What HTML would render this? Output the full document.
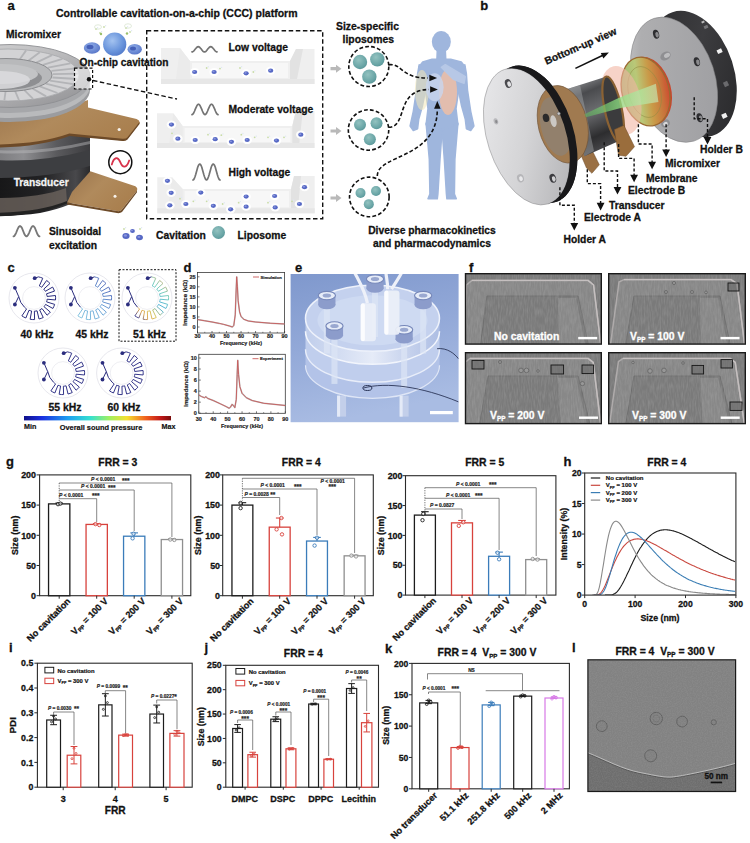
<!DOCTYPE html>
<html><head><meta charset="utf-8"><title>Figure</title>
<style>
html,body{margin:0;padding:0;background:#fff;}
body{width:750px;height:843px;overflow:hidden;font-family:"Liberation Sans",sans-serif;}
svg{display:block;font-family:"Liberation Sans",sans-serif;}
text{font-family:"Liberation Sans",sans-serif;}
</style></head><body>
<svg width="750" height="843" viewBox="0 0 750 843">
<rect width="750" height="843" fill="#fff"/>
<defs>
<radialGradient id="gBub" cx="0.4" cy="0.35" r="0.75"><stop offset="0" stop-color="#a4c3f0"/><stop offset="0.6" stop-color="#6a95dc"/><stop offset="1" stop-color="#4d74c6"/></radialGradient>
<radialGradient id="gBubS" cx="0.4" cy="0.35" r="0.75"><stop offset="0" stop-color="#92b0ea"/><stop offset="1" stop-color="#5270c4"/></radialGradient>
<radialGradient id="gTeal" cx="0.4" cy="0.35" r="0.75"><stop offset="0" stop-color="#93c2c0"/><stop offset="0.7" stop-color="#68a4a5"/><stop offset="1" stop-color="#528f92"/></radialGradient>
<linearGradient id="gTrans" x1="0" x2="1" y1="0" y2="0"><stop offset="0" stop-color="#161617"/><stop offset="0.5" stop-color="#222224"/><stop offset="0.85" stop-color="#48484b"/><stop offset="1" stop-color="#2a2a2c"/></linearGradient>
<linearGradient id="gSilver" x1="0" x2="1" y1="0" y2="0"><stop offset="0" stop-color="#7a7a7d"/><stop offset="0.3" stop-color="#8e8e91"/><stop offset="0.65" stop-color="#5a5a5d"/><stop offset="1" stop-color="#3c3c3f"/></linearGradient>
<linearGradient id="gCop" x1="0" x2="1" y1="0" y2="0.6"><stop offset="0" stop-color="#9a744c"/><stop offset="0.5" stop-color="#b08a5c"/><stop offset="1" stop-color="#a97f4e"/></linearGradient>
<linearGradient id="gDisc" x1="0" x2="1" y1="0" y2="1"><stop offset="0" stop-color="#d9d9da"/><stop offset="0.5" stop-color="#b9b9bb"/><stop offset="1" stop-color="#8e8e91"/></linearGradient>
<linearGradient id="gChan" x1="0" x2="0" y1="0" y2="1"><stop offset="0" stop-color="#f3f3f3"/><stop offset="1" stop-color="#e6e6e6"/></linearGradient>
<marker id="arw" viewBox="0 0 10 10" refX="5" refY="5" markerWidth="5" markerHeight="5" orient="auto"><path d="M0 0L10 5L0 10z" fill="#111"/></marker>
</defs>
<text x="7.60" y="9.80" font-size="13" text-anchor="start" fill="#111" stroke="#111" stroke-width="0.28" font-weight="bold">a</text>
<text x="56.00" y="16.50" font-size="10.5" text-anchor="start" fill="#111" stroke="#111" stroke-width="0.28" font-weight="bold">Controllable cavitation-on-a-chip (CCC) platform</text>
<text x="6.00" y="38.30" font-size="10.3" text-anchor="start" fill="#111" stroke="#111" stroke-width="0.28" font-weight="bold">Micromixer</text>
<clipPath id="aclip"><rect x="0" y="40" width="146" height="185"/></clipPath><g clip-path="url(#aclip)">
<path d="M-5 150 L90 150 L90 192 Q75 206 40 213 Q20 216 -5 216 Z" fill="url(#gTrans)" stroke="none" stroke-width="1"/>
<path d="M-5 198 Q40 198 66 188 L67 202 Q40 213 -5 215 Z" fill="#6b635c" stroke="none" stroke-width="1" opacity="0.8"/>
<path d="M-5 213 Q40 212 67 201 L67 203.5 Q40 215 -5 216.5 Z" fill="#222" stroke="none" stroke-width="1"/>
<path d="M90.3 171.2 L135.4 186.3 Q138 188 137 190.5 L121.5 210 Q120 211.5 117 211 L67.1 202.5 L72 192 Z" fill="url(#gCop)" stroke="none" stroke-width="1"/>
<path d="M67.1 202.5 L117 211 Q120 211.5 121.5 210 L137 190.5 L137 192.2 L122 212 Q120 213.5 117 213 L67.1 204.5Z" fill="#6d4a28" stroke="none" stroke-width="1"/>
<circle cx="115.00" cy="196.20" r="1.50" fill="#f6f2ec" stroke="none" stroke-width="1"/>
<path d="M-5 140 L90 128 L90 153 Q70 160 40 163 Q15 164 -5 163 Z" fill="url(#gSilver)" stroke="none" stroke-width="1"/>
<path d="M-5 160 Q40 163 90 150 L90 166 Q50 178 -5 178Z" fill="#3d3e41" stroke="none" stroke-width="1"/>
<path d="M-5 150 Q40 153 90 141 L90 144 Q40 156 -5 153Z" fill="#bdbdbf" stroke="none" stroke-width="1" opacity="0.45"/>
<path d="M-5 120 Q40 118 88 100 L88 107.5 L136.6 119.1 Q140.5 121 139.5 123.5 L127.5 139 Q126 141 122.5 140.5 L69.4 135.3 Q40 146 -5 146.5 Z" fill="url(#gCop)" stroke="none" stroke-width="1"/>
<path d="M-5 144.5 Q40 144 69.4 133.5 L122.5 138.7 Q126 139 127.5 137.2 L139.5 122 L139.5 124 L127.5 139.6 Q126 141.3 122.5 140.9 L69.4 135.9 Q40 147 -5 147.5Z" fill="#6d4a28" stroke="none" stroke-width="1"/>
<circle cx="119.20" cy="129.50" r="1.60" fill="#f6f2ec" stroke="none" stroke-width="1"/>
<ellipse cx="10.00" cy="90.00" rx="80.00" ry="32.00" fill="#9b9c9f" stroke="none" stroke-width="1"/>
<ellipse cx="10.00" cy="86.00" rx="80.00" ry="32.00" fill="#b9babc" stroke="none" stroke-width="1"/>
<ellipse cx="10.00" cy="81.00" rx="80.00" ry="32.00" fill="#a6a7aa" stroke="none" stroke-width="1"/>
<ellipse cx="10.00" cy="76.00" rx="80.00" ry="31.50" fill="url(#gDisc)" stroke="#8f9093" stroke-width="0.9"/>
<ellipse cx="8.00" cy="75.00" rx="71.00" ry="26.00" fill="#d3d3d5" stroke="#a2a3a6" stroke-width="0.7"/>
<line x1="19.65" y1="59.55" x2="26.12" y2="50.37" stroke="#b3b4b7" stroke-width="1.8"/><line x1="28.43" y1="60.74" x2="39.78" y2="52.28" stroke="#b3b4b7" stroke-width="1.8"/><line x1="36.32" y1="62.57" x2="52.05" y2="55.18" stroke="#b3b4b7" stroke-width="1.8"/><line x1="42.97" y1="64.93" x2="62.40" y2="58.95" stroke="#b3b4b7" stroke-width="1.8"/><line x1="48.10" y1="67.74" x2="70.37" y2="63.42" stroke="#b3b4b7" stroke-width="1.8"/><line x1="51.47" y1="70.86" x2="75.61" y2="68.40" stroke="#b3b4b7" stroke-width="1.8"/><line x1="52.94" y1="74.16" x2="77.90" y2="73.67" stroke="#b3b4b7" stroke-width="1.8"/><line x1="52.45" y1="77.50" x2="77.14" y2="78.99" stroke="#b3b4b7" stroke-width="1.8"/><line x1="50.01" y1="80.73" x2="73.35" y2="84.14" stroke="#b3b4b7" stroke-width="1.8"/><line x1="45.74" y1="83.71" x2="66.71" y2="88.89" stroke="#b3b4b7" stroke-width="1.8"/><line x1="39.82" y1="86.31" x2="57.50" y2="93.03" stroke="#b3b4b7" stroke-width="1.8"/><line x1="32.51" y1="88.42" x2="46.12" y2="96.39" stroke="#b3b4b7" stroke-width="1.8"/><line x1="24.13" y1="89.94" x2="33.09" y2="98.81" stroke="#b3b4b7" stroke-width="1.8"/><line x1="15.04" y1="90.80" x2="18.95" y2="100.19" stroke="#b3b4b7" stroke-width="1.8"/><line x1="5.64" y1="90.98" x2="4.34" y2="100.47" stroke="#b3b4b7" stroke-width="1.8"/><line x1="-3.65" y1="90.45" x2="-10.12" y2="99.63" stroke="#b3b4b7" stroke-width="1.8"/>
<ellipse cx="6.00" cy="75.00" rx="46.00" ry="16.50" fill="#b8b9bb" stroke="#8b8c8f" stroke-width="1.0"/>
<ellipse cx="4.00" cy="78.00" rx="38.00" ry="12.00" fill="#8e8f92" stroke="none" stroke-width="1"/>
<ellipse cx="2.00" cy="74.00" rx="36.00" ry="10.00" fill="#c2c3c5" stroke="none" stroke-width="1"/>
<ellipse cx="0.00" cy="80.00" rx="30.00" ry="9.00" fill="#dcdcde" stroke="none" stroke-width="1" opacity="0.85"/>
</g>
<circle cx="96.00" cy="29.00" r="0.90" fill="#c9dca8" stroke="none" stroke-width="1"/><circle cx="97.60" cy="27.80" r="0.70" fill="#dfe8f3" stroke="none" stroke-width="1"/><circle cx="100.00" cy="33.00" r="0.90" fill="#c9dca8" stroke="none" stroke-width="1"/><circle cx="101.60" cy="31.80" r="0.70" fill="#dfe8f3" stroke="none" stroke-width="1"/><circle cx="126.00" cy="28.00" r="0.90" fill="#c9dca8" stroke="none" stroke-width="1"/><circle cx="127.60" cy="26.80" r="0.70" fill="#dfe8f3" stroke="none" stroke-width="1"/><circle cx="130.00" cy="32.00" r="0.90" fill="#c9dca8" stroke="none" stroke-width="1"/><circle cx="131.60" cy="30.80" r="0.70" fill="#dfe8f3" stroke="none" stroke-width="1"/><circle cx="104.00" cy="27.00" r="0.90" fill="#c9dca8" stroke="none" stroke-width="1"/><circle cx="105.60" cy="25.80" r="0.70" fill="#dfe8f3" stroke="none" stroke-width="1"/><ellipse cx="98.00" cy="27.00" rx="3.50" ry="2.20" fill="none" stroke="#d9e4d0" stroke-width="0.8"/><ellipse cx="128.00" cy="26.00" rx="3.50" ry="2.20" fill="none" stroke="#d9e4d0" stroke-width="0.8"/><circle cx="101.00" cy="34.00" r="1.20" fill="#9ac06a" stroke="none" stroke-width="1"/><circle cx="127.00" cy="33.50" r="1.20" fill="#9ac06a" stroke="none" stroke-width="1"/>
<circle cx="114.70" cy="44.20" r="11.60" fill="url(#gBub)" stroke="none" stroke-width="1"/>
<ellipse cx="92.00" cy="48.00" rx="8.20" ry="5.80" fill="url(#gBubS)" stroke="none" stroke-width="1"/>
<ellipse cx="134.70" cy="49.30" rx="7.20" ry="5.20" fill="url(#gBubS)" stroke="none" stroke-width="1"/>
<ellipse cx="90.00" cy="47.00" rx="3.50" ry="2.20" fill="#4560b8" stroke="none" stroke-width="1"/>
<ellipse cx="133.00" cy="48.60" rx="3.00" ry="2.00" fill="#4560b8" stroke="none" stroke-width="1"/>
<rect x="74.50" y="68.20" width="18.10" height="20.80" fill="#ffffff" stroke="#111" stroke-width="1.2" stroke-dasharray="3 2" fill-opacity="0.55"/>
<circle cx="89.00" cy="79.30" r="2.20" fill="#111" stroke="none" stroke-width="1"/>
<line x1="93.00" y1="80.50" x2="177.00" y2="99.00" stroke="#111" stroke-width="1.3" stroke-dasharray="4.5 2.5"/>
<circle cx="120.30" cy="162.20" r="11.50" fill="#fff" stroke="#111" stroke-width="1.5"/>
<path d="M111.8 164.5 C114 156.5 118 156.5 120.4 162.4 S126.5 168.5 129.2 160.5" fill="none" stroke="#d8324a" stroke-width="1.8" stroke-linecap="round"/>
<text x="13.70" y="185.80" font-size="10.2" text-anchor="start" fill="#f4f4f4" stroke="#f4f4f4" stroke-width="0.28" font-weight="bold">Transducer</text>
<rect x="146.70" y="30.70" width="176.00" height="188.00" fill="none" stroke="#111" stroke-width="1.4" stroke-dasharray="4.5 2.6"/>
<path d="M161 48L180 48L190 61L290 61L296 49L314.5 49L314.5 84L161 84Z" fill="#efefef" stroke="none" stroke-width="1"/><path d="M192 63L288 63L288 78L192 78Z" fill="#f7f7f7" stroke="none" stroke-width="1"/><rect x="161.00" y="79.00" width="153.50" height="5.00" fill="#e7e7e7" stroke="none" stroke-width="1"/><path d="M290 61L296 49L303 49L297 79L290 79Z" fill="#e2e2e2" stroke="none" stroke-width="1"/><path d="M180 48L190 61L190 79L176 79Z" fill="#ebebeb" stroke="none" stroke-width="1"/>
<path d="M157 113.2L173.3 113.2L182.7 126L292.3 126L295.8 111L314.5 111L314.5 148L157 148Z" fill="#efefef" stroke="none" stroke-width="1"/><path d="M184.7 128L290.3 128L290.3 142L184.7 142Z" fill="#f7f7f7" stroke="none" stroke-width="1"/><rect x="157.00" y="143.00" width="157.50" height="5.00" fill="#e7e7e7" stroke="none" stroke-width="1"/><path d="M292.3 126L295.8 111L302.8 111L299.3 143L292.3 143Z" fill="#e2e2e2" stroke="none" stroke-width="1"/><path d="M173.3 113.2L182.7 126L182.7 143L169.3 143Z" fill="#ebebeb" stroke="none" stroke-width="1"/>
<path d="M157.3 177.3L172 177.3L182.7 189L291 189L294 176L314.7 176L314.7 213.3L157.3 213.3Z" fill="#efefef" stroke="none" stroke-width="1"/><path d="M184.7 191L289 191L289 207.3L184.7 207.3Z" fill="#f7f7f7" stroke="none" stroke-width="1"/><rect x="157.30" y="208.30" width="157.40" height="5.00" fill="#e7e7e7" stroke="none" stroke-width="1"/><path d="M291 189L294 176L301 176L298 208.3L291 208.3Z" fill="#e2e2e2" stroke="none" stroke-width="1"/><path d="M172 177.3L182.7 189L182.7 208.3L168 208.3Z" fill="#ebebeb" stroke="none" stroke-width="1"/>
<text x="79.50" y="66.00" font-size="10.2" text-anchor="start" fill="#111" stroke="#111" stroke-width="0.28" font-weight="bold">On-chip cavitation</text>
<path d="M192.0 51.9 L192.6 51.8 L193.2 51.4 L193.9 50.8 L194.5 50.1 L195.1 49.3 L195.8 48.5 L196.4 47.8 L197.0 47.2 L197.6 46.8 L198.2 46.7 L198.9 46.8 L199.5 47.2 L200.1 47.8 L200.8 48.5 L201.4 49.3 L202.0 50.1 L202.6 50.8 L203.2 51.4 L203.9 51.8 L204.5 51.9 L205.1 51.8 L205.8 51.4 L206.4 50.8 L207.0 50.1 L207.6 49.3 L208.2 48.5 L208.9 47.8 L209.5 47.2 L210.1 46.8 L210.8 46.7 L211.4 46.8 L212.0 47.2 L212.6 47.8 L213.2 48.5 L213.9 49.3 L214.5 50.1 L215.1 50.8 L215.8 51.4 L216.4 51.8 L217.0 51.9" fill="none" stroke="#747474" stroke-width="1.7" stroke-linecap="round" stroke-linejoin="round"/>
<text x="228.50" y="51.20" font-size="10.3" text-anchor="start" fill="#111" stroke="#111" stroke-width="0.28" font-weight="bold">Low voltage</text>
<path d="M192.0 114.6 L192.7 114.3 L193.3 113.6 L193.9 112.5 L194.6 111.0 L195.2 109.4 L195.9 107.8 L196.6 106.3 L197.2 105.2 L197.8 104.5 L198.5 104.2 L199.2 104.5 L199.8 105.2 L200.4 106.3 L201.1 107.8 L201.8 109.4 L202.4 111.0 L203.1 112.5 L203.7 113.6 L204.3 114.3 L205.0 114.6 L205.7 114.3 L206.3 113.6 L206.9 112.5 L207.6 111.0 L208.2 109.4 L208.9 107.8 L209.6 106.3 L210.2 105.2 L210.8 104.5 L211.5 104.2 L212.2 104.5 L212.8 105.2 L213.4 106.3 L214.1 107.8 L214.8 109.4 L215.4 111.0 L216.1 112.5 L216.7 113.6 L217.3 114.3 L218.0 114.6" fill="none" stroke="#747474" stroke-width="1.7" stroke-linecap="round" stroke-linejoin="round"/>
<text x="228.50" y="112.60" font-size="10.3" text-anchor="start" fill="#111" stroke="#111" stroke-width="0.28" font-weight="bold">Moderate voltage</text>
<path d="M193.0 180.0 L193.7 179.6 L194.3 178.5 L195.0 176.7 L195.7 174.5 L196.4 172.0 L197.1 169.5 L197.7 167.3 L198.4 165.5 L199.1 164.4 L199.8 164.0 L200.4 164.4 L201.1 165.5 L201.8 167.3 L202.4 169.5 L203.1 172.0 L203.8 174.5 L204.5 176.7 L205.2 178.5 L205.8 179.6 L206.5 180.0 L207.2 179.6 L207.8 178.5 L208.5 176.7 L209.2 174.5 L209.9 172.0 L210.6 169.5 L211.2 167.3 L211.9 165.5 L212.6 164.4 L213.2 164.0 L213.9 164.4 L214.6 165.5 L215.3 167.3 L215.9 169.5 L216.6 172.0 L217.3 174.5 L218.0 176.7 L218.7 178.5 L219.3 179.6 L220.0 180.0" fill="none" stroke="#747474" stroke-width="1.7" stroke-linecap="round" stroke-linejoin="round"/>
<text x="228.50" y="176.00" font-size="10.3" text-anchor="start" fill="#111" stroke="#111" stroke-width="0.28" font-weight="bold">High voltage</text>
<ellipse cx="194.67" cy="72.00" rx="4.80" ry="4.10" fill="#ffffff" stroke="none" stroke-width="1" opacity="0.9"/><ellipse cx="194.67" cy="72.00" rx="2.60" ry="2.10" fill="#5668c4" stroke="none" stroke-width="1"/><ellipse cx="194.07" cy="71.50" rx="1.17" ry="0.84" fill="#8793dd" stroke="none" stroke-width="1"/>
<ellipse cx="214.13" cy="72.00" rx="4.80" ry="4.10" fill="#ffffff" stroke="none" stroke-width="1" opacity="0.9"/><ellipse cx="214.13" cy="72.00" rx="2.60" ry="2.10" fill="#5668c4" stroke="none" stroke-width="1"/><ellipse cx="213.53" cy="71.50" rx="1.17" ry="0.84" fill="#8793dd" stroke="none" stroke-width="1"/>
<ellipse cx="246.13" cy="73.33" rx="4.80" ry="4.10" fill="#ffffff" stroke="none" stroke-width="1" opacity="0.9"/><ellipse cx="246.13" cy="73.33" rx="2.60" ry="2.10" fill="#5668c4" stroke="none" stroke-width="1"/><ellipse cx="245.53" cy="72.83" rx="1.17" ry="0.84" fill="#8793dd" stroke="none" stroke-width="1"/>
<ellipse cx="270.67" cy="70.67" rx="4.80" ry="4.10" fill="#ffffff" stroke="none" stroke-width="1" opacity="0.9"/><ellipse cx="270.67" cy="70.67" rx="2.60" ry="2.10" fill="#5668c4" stroke="none" stroke-width="1"/><ellipse cx="270.07" cy="70.17" rx="1.17" ry="0.84" fill="#8793dd" stroke="none" stroke-width="1"/>
<circle cx="206.67" cy="68.00" r="0.90" fill="#c9dca8" stroke="none" stroke-width="1"/><circle cx="208.27" cy="66.80" r="0.70" fill="#dfe8f3" stroke="none" stroke-width="1"/>
<circle cx="220.00" cy="68.53" r="0.90" fill="#c9dca8" stroke="none" stroke-width="1"/><circle cx="221.60" cy="67.33" r="0.70" fill="#dfe8f3" stroke="none" stroke-width="1"/>
<circle cx="240.00" cy="68.00" r="0.90" fill="#c9dca8" stroke="none" stroke-width="1"/><circle cx="241.60" cy="66.80" r="0.70" fill="#dfe8f3" stroke="none" stroke-width="1"/>
<circle cx="253.33" cy="72.00" r="0.90" fill="#c9dca8" stroke="none" stroke-width="1"/><circle cx="254.93" cy="70.80" r="0.70" fill="#dfe8f3" stroke="none" stroke-width="1"/>
<ellipse cx="171.47" cy="124.53" rx="4.80" ry="4.10" fill="#ffffff" stroke="none" stroke-width="1" opacity="0.9"/><ellipse cx="171.47" cy="124.53" rx="2.60" ry="2.10" fill="#5668c4" stroke="none" stroke-width="1"/><ellipse cx="170.87" cy="124.03" rx="1.17" ry="0.84" fill="#8793dd" stroke="none" stroke-width="1"/>
<ellipse cx="177.87" cy="138.67" rx="4.80" ry="4.10" fill="#ffffff" stroke="none" stroke-width="1" opacity="0.9"/><ellipse cx="177.87" cy="138.67" rx="2.60" ry="2.10" fill="#5668c4" stroke="none" stroke-width="1"/><ellipse cx="177.27" cy="138.17" rx="1.17" ry="0.84" fill="#8793dd" stroke="none" stroke-width="1"/>
<ellipse cx="195.20" cy="140.00" rx="4.80" ry="4.10" fill="#ffffff" stroke="none" stroke-width="1" opacity="0.9"/><ellipse cx="195.20" cy="140.00" rx="2.60" ry="2.10" fill="#5668c4" stroke="none" stroke-width="1"/><ellipse cx="194.60" cy="139.50" rx="1.17" ry="0.84" fill="#8793dd" stroke="none" stroke-width="1"/>
<ellipse cx="215.20" cy="139.20" rx="4.80" ry="4.10" fill="#ffffff" stroke="none" stroke-width="1" opacity="0.9"/><ellipse cx="215.20" cy="139.20" rx="2.60" ry="2.10" fill="#5668c4" stroke="none" stroke-width="1"/><ellipse cx="214.60" cy="138.70" rx="1.17" ry="0.84" fill="#8793dd" stroke="none" stroke-width="1"/>
<ellipse cx="231.47" cy="141.87" rx="4.80" ry="4.10" fill="#ffffff" stroke="none" stroke-width="1" opacity="0.9"/><ellipse cx="231.47" cy="141.87" rx="2.60" ry="2.10" fill="#5668c4" stroke="none" stroke-width="1"/><ellipse cx="230.87" cy="141.37" rx="1.17" ry="0.84" fill="#8793dd" stroke="none" stroke-width="1"/>
<ellipse cx="247.20" cy="140.00" rx="4.80" ry="4.10" fill="#ffffff" stroke="none" stroke-width="1" opacity="0.9"/><ellipse cx="247.20" cy="140.00" rx="2.60" ry="2.10" fill="#5668c4" stroke="none" stroke-width="1"/><ellipse cx="246.60" cy="139.50" rx="1.17" ry="0.84" fill="#8793dd" stroke="none" stroke-width="1"/>
<ellipse cx="276.53" cy="140.53" rx="4.80" ry="4.10" fill="#ffffff" stroke="none" stroke-width="1" opacity="0.9"/><ellipse cx="276.53" cy="140.53" rx="2.60" ry="2.10" fill="#5668c4" stroke="none" stroke-width="1"/><ellipse cx="275.93" cy="140.03" rx="1.17" ry="0.84" fill="#8793dd" stroke="none" stroke-width="1"/>
<ellipse cx="300.80" cy="134.67" rx="4.80" ry="4.10" fill="#ffffff" stroke="none" stroke-width="1" opacity="0.9"/><ellipse cx="300.80" cy="134.67" rx="2.60" ry="2.10" fill="#5668c4" stroke="none" stroke-width="1"/><ellipse cx="300.20" cy="134.17" rx="1.17" ry="0.84" fill="#8793dd" stroke="none" stroke-width="1"/>
<circle cx="172.00" cy="133.33" r="0.90" fill="#c9dca8" stroke="none" stroke-width="1"/><circle cx="173.60" cy="132.13" r="0.70" fill="#dfe8f3" stroke="none" stroke-width="1"/>
<circle cx="208.00" cy="134.67" r="0.90" fill="#c9dca8" stroke="none" stroke-width="1"/><circle cx="209.60" cy="133.47" r="0.70" fill="#dfe8f3" stroke="none" stroke-width="1"/>
<circle cx="221.33" cy="135.20" r="0.90" fill="#c9dca8" stroke="none" stroke-width="1"/><circle cx="222.93" cy="134.00" r="0.70" fill="#dfe8f3" stroke="none" stroke-width="1"/>
<circle cx="241.33" cy="134.67" r="0.90" fill="#c9dca8" stroke="none" stroke-width="1"/><circle cx="242.93" cy="133.47" r="0.70" fill="#dfe8f3" stroke="none" stroke-width="1"/>
<circle cx="254.67" cy="137.33" r="0.90" fill="#c9dca8" stroke="none" stroke-width="1"/><circle cx="256.27" cy="136.13" r="0.70" fill="#dfe8f3" stroke="none" stroke-width="1"/>
<circle cx="268.00" cy="137.33" r="0.90" fill="#c9dca8" stroke="none" stroke-width="1"/><circle cx="269.60" cy="136.13" r="0.70" fill="#dfe8f3" stroke="none" stroke-width="1"/>
<circle cx="284.00" cy="137.33" r="0.90" fill="#c9dca8" stroke="none" stroke-width="1"/><circle cx="285.60" cy="136.13" r="0.70" fill="#dfe8f3" stroke="none" stroke-width="1"/>
<ellipse cx="167.47" cy="180.80" rx="4.80" ry="4.10" fill="#ffffff" stroke="none" stroke-width="1" opacity="0.9"/><ellipse cx="167.47" cy="180.80" rx="2.60" ry="2.10" fill="#5668c4" stroke="none" stroke-width="1"/><ellipse cx="166.87" cy="180.30" rx="1.17" ry="0.84" fill="#8793dd" stroke="none" stroke-width="1"/>
<ellipse cx="171.20" cy="192.80" rx="4.80" ry="4.10" fill="#ffffff" stroke="none" stroke-width="1" opacity="0.9"/><ellipse cx="171.20" cy="192.80" rx="2.60" ry="2.10" fill="#5668c4" stroke="none" stroke-width="1"/><ellipse cx="170.60" cy="192.30" rx="1.17" ry="0.84" fill="#8793dd" stroke="none" stroke-width="1"/>
<ellipse cx="169.87" cy="205.33" rx="4.80" ry="4.10" fill="#ffffff" stroke="none" stroke-width="1" opacity="0.9"/><ellipse cx="169.87" cy="205.33" rx="2.60" ry="2.10" fill="#5668c4" stroke="none" stroke-width="1"/><ellipse cx="169.27" cy="204.83" rx="1.17" ry="0.84" fill="#8793dd" stroke="none" stroke-width="1"/>
<ellipse cx="185.87" cy="204.00" rx="4.80" ry="4.10" fill="#ffffff" stroke="none" stroke-width="1" opacity="0.9"/><ellipse cx="185.87" cy="204.00" rx="2.60" ry="2.10" fill="#5668c4" stroke="none" stroke-width="1"/><ellipse cx="185.27" cy="203.50" rx="1.17" ry="0.84" fill="#8793dd" stroke="none" stroke-width="1"/>
<ellipse cx="200.80" cy="192.53" rx="4.80" ry="4.10" fill="#ffffff" stroke="none" stroke-width="1" opacity="0.9"/><ellipse cx="200.80" cy="192.53" rx="2.60" ry="2.10" fill="#5668c4" stroke="none" stroke-width="1"/><ellipse cx="200.20" cy="192.03" rx="1.17" ry="0.84" fill="#8793dd" stroke="none" stroke-width="1"/>
<ellipse cx="213.33" cy="205.87" rx="4.80" ry="4.10" fill="#ffffff" stroke="none" stroke-width="1" opacity="0.9"/><ellipse cx="213.33" cy="205.87" rx="2.60" ry="2.10" fill="#5668c4" stroke="none" stroke-width="1"/><ellipse cx="212.73" cy="205.37" rx="1.17" ry="0.84" fill="#8793dd" stroke="none" stroke-width="1"/>
<ellipse cx="230.67" cy="209.33" rx="4.80" ry="4.10" fill="#ffffff" stroke="none" stroke-width="1" opacity="0.9"/><ellipse cx="230.67" cy="209.33" rx="2.60" ry="2.10" fill="#5668c4" stroke="none" stroke-width="1"/><ellipse cx="230.07" cy="208.83" rx="1.17" ry="0.84" fill="#8793dd" stroke="none" stroke-width="1"/>
<ellipse cx="246.13" cy="196.53" rx="4.80" ry="4.10" fill="#ffffff" stroke="none" stroke-width="1" opacity="0.9"/><ellipse cx="246.13" cy="196.53" rx="2.60" ry="2.10" fill="#5668c4" stroke="none" stroke-width="1"/><ellipse cx="245.53" cy="196.03" rx="1.17" ry="0.84" fill="#8793dd" stroke="none" stroke-width="1"/>
<ellipse cx="246.13" cy="206.67" rx="4.80" ry="4.10" fill="#ffffff" stroke="none" stroke-width="1" opacity="0.9"/><ellipse cx="246.13" cy="206.67" rx="2.60" ry="2.10" fill="#5668c4" stroke="none" stroke-width="1"/><ellipse cx="245.53" cy="206.17" rx="1.17" ry="0.84" fill="#8793dd" stroke="none" stroke-width="1"/>
<ellipse cx="274.67" cy="196.00" rx="4.80" ry="4.10" fill="#ffffff" stroke="none" stroke-width="1" opacity="0.9"/><ellipse cx="274.67" cy="196.00" rx="2.60" ry="2.10" fill="#5668c4" stroke="none" stroke-width="1"/><ellipse cx="274.07" cy="195.50" rx="1.17" ry="0.84" fill="#8793dd" stroke="none" stroke-width="1"/>
<ellipse cx="275.20" cy="207.47" rx="4.80" ry="4.10" fill="#ffffff" stroke="none" stroke-width="1" opacity="0.9"/><ellipse cx="275.20" cy="207.47" rx="2.60" ry="2.10" fill="#5668c4" stroke="none" stroke-width="1"/><ellipse cx="274.60" cy="206.97" rx="1.17" ry="0.84" fill="#8793dd" stroke="none" stroke-width="1"/>
<ellipse cx="299.47" cy="204.00" rx="4.80" ry="4.10" fill="#ffffff" stroke="none" stroke-width="1" opacity="0.9"/><ellipse cx="299.47" cy="204.00" rx="2.60" ry="2.10" fill="#5668c4" stroke="none" stroke-width="1"/><ellipse cx="298.87" cy="203.50" rx="1.17" ry="0.84" fill="#8793dd" stroke="none" stroke-width="1"/>
<ellipse cx="304.53" cy="187.20" rx="4.80" ry="4.10" fill="#ffffff" stroke="none" stroke-width="1" opacity="0.9"/><ellipse cx="304.53" cy="187.20" rx="2.60" ry="2.10" fill="#5668c4" stroke="none" stroke-width="1"/><ellipse cx="303.93" cy="186.70" rx="1.17" ry="0.84" fill="#8793dd" stroke="none" stroke-width="1"/>
<circle cx="180.00" cy="198.67" r="0.90" fill="#c9dca8" stroke="none" stroke-width="1"/><circle cx="181.60" cy="197.47" r="0.70" fill="#dfe8f3" stroke="none" stroke-width="1"/>
<circle cx="193.33" cy="201.33" r="0.90" fill="#c9dca8" stroke="none" stroke-width="1"/><circle cx="194.93" cy="200.13" r="0.70" fill="#dfe8f3" stroke="none" stroke-width="1"/>
<circle cx="206.67" cy="201.33" r="0.90" fill="#c9dca8" stroke="none" stroke-width="1"/><circle cx="208.27" cy="200.13" r="0.70" fill="#dfe8f3" stroke="none" stroke-width="1"/>
<circle cx="222.67" cy="204.00" r="0.90" fill="#c9dca8" stroke="none" stroke-width="1"/><circle cx="224.27" cy="202.80" r="0.70" fill="#dfe8f3" stroke="none" stroke-width="1"/>
<circle cx="238.67" cy="202.67" r="0.90" fill="#c9dca8" stroke="none" stroke-width="1"/><circle cx="240.27" cy="201.47" r="0.70" fill="#dfe8f3" stroke="none" stroke-width="1"/>
<circle cx="268.00" cy="202.67" r="0.90" fill="#c9dca8" stroke="none" stroke-width="1"/><circle cx="269.60" cy="201.47" r="0.70" fill="#dfe8f3" stroke="none" stroke-width="1"/>
<circle cx="292.00" cy="201.33" r="0.90" fill="#c9dca8" stroke="none" stroke-width="1"/><circle cx="293.60" cy="200.13" r="0.70" fill="#dfe8f3" stroke="none" stroke-width="1"/>
<path d="M13.5 236.4 L14.2 236.1 L14.8 235.4 L15.4 234.3 L16.1 232.8 L16.8 231.2 L17.4 229.6 L18.1 228.1 L18.7 227.0 L19.4 226.3 L20.0 226.0 L20.6 226.3 L21.3 227.0 L22.0 228.1 L22.6 229.6 L23.2 231.2 L23.9 232.8 L24.5 234.3 L25.2 235.4 L25.9 236.1 L26.5 236.4 L27.1 236.1 L27.8 235.4 L28.4 234.3 L29.1 232.8 L29.8 231.2 L30.4 229.6 L31.1 228.1 L31.7 227.0 L32.3 226.3 L33.0 226.0 L33.7 226.3 L34.3 227.0 L35.0 228.1 L35.6 229.6 L36.2 231.2 L36.9 232.8 L37.5 234.3 L38.2 235.4 L38.8 236.1 L39.5 236.4" fill="none" stroke="#777" stroke-width="1.8" stroke-linecap="round" stroke-linejoin="round"/>
<text x="49.00" y="235.30" font-size="10.3" text-anchor="start" fill="#111" stroke="#111" stroke-width="0.28" font-weight="bold">Sinusoidal</text>
<text x="49.00" y="248.60" font-size="10.3" text-anchor="start" fill="#111" stroke="#111" stroke-width="0.28" font-weight="bold">excitation</text>
<ellipse cx="126.00" cy="236.00" rx="5.80" ry="5.00" fill="#ffffff" stroke="none" stroke-width="1" opacity="0.9"/><ellipse cx="126.00" cy="236.00" rx="3.60" ry="3.00" fill="#5668c4" stroke="none" stroke-width="1"/><ellipse cx="125.40" cy="235.50" rx="1.62" ry="1.20" fill="#8793dd" stroke="none" stroke-width="1"/><ellipse cx="139.50" cy="237.50" rx="5.60" ry="4.80" fill="#ffffff" stroke="none" stroke-width="1" opacity="0.9"/><ellipse cx="139.50" cy="237.50" rx="3.40" ry="2.80" fill="#5668c4" stroke="none" stroke-width="1"/><ellipse cx="138.90" cy="237.00" rx="1.53" ry="1.12" fill="#8793dd" stroke="none" stroke-width="1"/><ellipse cx="132.50" cy="231.00" rx="2.40" ry="2.00" fill="#5668c4" stroke="none" stroke-width="1"/><ellipse cx="131.90" cy="230.50" rx="1.08" ry="0.80" fill="#8793dd" stroke="none" stroke-width="1"/><circle cx="124.00" cy="229.00" r="0.90" fill="#c9dca8" stroke="none" stroke-width="1"/><circle cx="125.60" cy="227.80" r="0.70" fill="#dfe8f3" stroke="none" stroke-width="1"/><circle cx="140.00" cy="229.00" r="0.90" fill="#c9dca8" stroke="none" stroke-width="1"/><circle cx="141.60" cy="227.80" r="0.70" fill="#dfe8f3" stroke="none" stroke-width="1"/>
<text x="156.00" y="239.20" font-size="10.3" text-anchor="start" fill="#111" stroke="#111" stroke-width="0.28" font-weight="bold">Cavitation</text>
<circle cx="218.50" cy="232.50" r="6.50" fill="url(#gTeal)" stroke="none" stroke-width="1"/>
<text x="237.50" y="239.20" font-size="10.3" text-anchor="start" fill="#111" stroke="#111" stroke-width="0.28" font-weight="bold">Liposome</text>
<path d="M330.5 67.10000000000001H336V64.7L341.5 68.7L336 72.7V70.3H330.5Z" fill="#b9b9b9" stroke="none" stroke-width="1"/>
<path d="M330.5 129.4H336V127L341.5 131L336 135V132.6H330.5Z" fill="#b9b9b9" stroke="none" stroke-width="1"/>
<path d="M330.5 196.4H336V194L341.5 198L336 202V199.6H330.5Z" fill="#b9b9b9" stroke="none" stroke-width="1"/>
<text x="367.50" y="30.40" font-size="10.4" text-anchor="middle" fill="#111" stroke="#111" stroke-width="0.28" font-weight="bold">Size-specific</text>
<text x="368.30" y="43.00" font-size="10.4" text-anchor="middle" fill="#111" stroke="#111" stroke-width="0.28" font-weight="bold">liposomes</text>
<circle cx="368.80" cy="66.53" r="20.00" fill="#fff" stroke="#111" stroke-width="1.6" stroke-dasharray="3.8 2.2"/>
<circle cx="360.00" cy="62.00" r="7.20" fill="url(#gTeal)" stroke="none" stroke-width="1"/>
<circle cx="377.33" cy="59.33" r="7.20" fill="url(#gTeal)" stroke="none" stroke-width="1"/>
<circle cx="369.33" cy="76.67" r="7.20" fill="url(#gTeal)" stroke="none" stroke-width="1"/>
<circle cx="368.53" cy="130.00" r="20.20" fill="#fff" stroke="#111" stroke-width="1.6" stroke-dasharray="3.8 2.2"/>
<circle cx="360.00" cy="124.67" r="6.00" fill="url(#gTeal)" stroke="none" stroke-width="1"/>
<circle cx="376.53" cy="123.33" r="6.00" fill="url(#gTeal)" stroke="none" stroke-width="1"/>
<circle cx="369.87" cy="139.33" r="6.00" fill="url(#gTeal)" stroke="none" stroke-width="1"/>
<circle cx="369.33" cy="196.93" r="19.80" fill="#fff" stroke="#111" stroke-width="1.6" stroke-dasharray="3.8 2.2"/>
<circle cx="360.53" cy="192.93" r="5.00" fill="url(#gTeal)" stroke="none" stroke-width="1"/>
<circle cx="376.00" cy="191.07" r="5.00" fill="url(#gTeal)" stroke="none" stroke-width="1"/>
<circle cx="368.80" cy="204.13" r="5.00" fill="url(#gTeal)" stroke="none" stroke-width="1"/>
<ellipse cx="441.33" cy="41.77" rx="9.50" ry="10.80" fill="#9fb6dd" stroke="none" stroke-width="1"/><path d="M437.3 50.0 L445.3 50.0 L445.9 62.0 L436.8 62.0Z" fill="#9fb6dd" stroke="#9fb6dd" stroke-width="1.5" stroke-linejoin="round"/><path d="M422.7 62.0 L432.0 59.3 L450.7 59.3 L461.3 62.0 L465.3 67.3 L458.7 90.0 L456.0 108.7 L457.9 124.7 L442.1 131.3 L426.1 124.7 L428.0 108.7 L425.3 90.0 L418.7 67.3Z" fill="#9fb6dd" stroke="#9fb6dd" stroke-width="1.5" stroke-linejoin="round"/><path d="M419.2 64.7 L425.3 70.0 L425.6 90.0 L422.4 106.0 L418.7 119.3 L417.6 128.7 L413.3 130.5 L410.1 126.0 L413.3 111.3 L416.5 90.0 L417.6 74.0Z" fill="#9fb6dd" stroke="#9fb6dd" stroke-width="1.5" stroke-linejoin="round"/><path d="M464.8 64.7 L458.7 70.0 L458.4 90.0 L461.6 106.0 L465.3 119.3 L466.4 128.7 L470.7 130.5 L473.9 126.0 L470.7 111.3 L467.5 90.0 L466.4 74.0Z" fill="#9fb6dd" stroke="#9fb6dd" stroke-width="1.5" stroke-linejoin="round"/><path d="M426.1 123.3 L442.1 130.0 L440.0 159.3 L437.9 194.0 L437.3 198.8 L428.0 198.8 L429.9 194.0 L429.3 159.3Z" fill="#9fb6dd" stroke="#9fb6dd" stroke-width="1.5" stroke-linejoin="round"/><path d="M457.9 123.3 L442.1 130.0 L444.3 159.3 L446.4 194.0 L446.9 198.8 L456.3 198.8 L454.4 194.0 L454.9 159.3Z" fill="#9fb6dd" stroke="#9fb6dd" stroke-width="1.5" stroke-linejoin="round"/><ellipse cx="448.00" cy="92.00" rx="9.00" ry="23.00" fill="#f3bfa2" stroke="none" stroke-width="1" opacity="0.8"/><ellipse cx="421.87" cy="90.00" rx="7.00" ry="20.00" fill="#f3e7b8" stroke="none" stroke-width="1" opacity="0.55"/><ellipse cx="434.67" cy="87.33" rx="9.00" ry="14.00" fill="#c9d6ee" stroke="none" stroke-width="1" opacity="0.8"/><path d="M441.3 67.3 L445.3 64.7 L465.3 76.7 L464.0 83.3 L453.3 79.3Z" fill="#b7c8e6" stroke="#b7c8e6" stroke-width="1.5" stroke-linejoin="round"/>
<path d="M388.8 64.7C402.7 63.3 400.0 78.0 428.0 78.0" fill="none" stroke="#111" stroke-width="1.6" stroke-dasharray="3.8 2.2"/>
<path d="M388.5 127.3C408.0 127.3 394.7 90.0 428.8 89.5" fill="none" stroke="#111" stroke-width="1.6" stroke-dasharray="3.8 2.2"/>
<path d="M377.3 175.9C377.3 154.0 437.3 159.3 437.3 109.2" fill="none" stroke="#111" stroke-width="1.6" stroke-dasharray="3.8 2.2"/>
<path d="M437.1 78.0 L429.3 81.3 L429.3 74.7Z" fill="#111" stroke="none" stroke-width="1"/>
<path d="M437.9 89.5 L430.1 92.7 L430.1 86.2Z" fill="#111" stroke="none" stroke-width="1"/>
<path d="M437.3 100.9 L440.6 108.7 L434.1 108.7Z" fill="#111" stroke="none" stroke-width="1"/>
<text x="432.00" y="234.30" font-size="10.3" text-anchor="middle" fill="#111" stroke="#111" stroke-width="0.28" font-weight="bold">Diverse pharmacokinetics</text>
<text x="432.00" y="247.20" font-size="10.3" text-anchor="middle" fill="#111" stroke="#111" stroke-width="0.28" font-weight="bold">and pharmacodynamics</text>
<defs>
<linearGradient id="bFaceB" x1="0" x2="1" y1="0" y2="0.6"><stop offset="0" stop-color="#cfcfd1"/><stop offset="0.25" stop-color="#aeaeb0"/><stop offset="1" stop-color="#a0a0a3"/></linearGradient>
<linearGradient id="bRimB" x1="0" x2="1" y1="0" y2="1"><stop offset="0" stop-color="#2a2a2c"/><stop offset="0.5" stop-color="#3c3c3f"/><stop offset="1" stop-color="#262628"/></linearGradient>
<linearGradient id="bFaceA" x1="0" x2="1" y1="0" y2="1"><stop offset="0" stop-color="#ececee"/><stop offset="0.5" stop-color="#d4d4d6"/><stop offset="1" stop-color="#adadb0"/></linearGradient>
<linearGradient id="bCyl" x1="0.35" x2="0.65" y1="0" y2="1"><stop offset="0" stop-color="#8c8d90"/><stop offset="0.2" stop-color="#4a4b4e"/><stop offset="0.45" stop-color="#6b6c6f"/><stop offset="0.75" stop-color="#2d2d2f"/><stop offset="1" stop-color="#505053"/></linearGradient>
<linearGradient id="bMix" x1="0" x2="1" y1="0.4" y2="0.6"><stop offset="0" stop-color="#9cb870"/><stop offset="0.35" stop-color="#b9c878"/><stop offset="0.6" stop-color="#c99a48"/><stop offset="0.85" stop-color="#c8703a"/><stop offset="1" stop-color="#cf4a30"/></linearGradient>
<linearGradient id="bBeam" x1="0" x2="1" y1="0" y2="0"><stop offset="0" stop-color="#5ec45a" stop-opacity="0.45"/><stop offset="0.45" stop-color="#8ee283" stop-opacity="0.75"/><stop offset="1" stop-color="#c9f0c0" stop-opacity="0.6"/></linearGradient>
</defs>
<text x="480.30" y="10.00" font-size="13" text-anchor="start" fill="#111" stroke="#111" stroke-width="0.28" font-weight="bold">b</text>
<ellipse cx="692.5" cy="74.0" rx="41.5" ry="65.0" transform="rotate(-18 692.5 74.0)" fill="url(#bRimB)" stroke="none" stroke-width="1"/>
<rect x="717.10" y="49.20" width="5.00" height="4.00" fill="#f0f0f0" stroke="none" stroke-width="1" transform="rotate(-25 719.6 51.2)"/>
<rect x="721.90" y="113.55" width="5.00" height="4.50" fill="#f0f0f0" stroke="none" stroke-width="1" transform="rotate(-25 724.4 115.8)"/>
<rect x="704.00" y="25.50" width="4.00" height="3.00" fill="#77777a" stroke="none" stroke-width="1" transform="rotate(-25 706.0 27.0)"/>
<rect x="723.75" y="81.50" width="4.50" height="5.00" fill="#6a6a6d" stroke="none" stroke-width="1" transform="rotate(-25 726.0 84.0)"/>
<rect x="701.50" y="21.00" width="3.00" height="2.00" fill="#bbb" stroke="none" stroke-width="1" transform="rotate(-25 703.0 22.0)"/>
<ellipse cx="674.1" cy="79.7" rx="40.8" ry="64.5" transform="rotate(-18 674.1 79.7)" fill="url(#bFaceB)" stroke="#7d7d80" stroke-width="0.5"/>
<ellipse cx="656.1" cy="34.2" rx="3.0" ry="4.6" transform="rotate(-15 656.1 34.2)" fill="#2e2e31" stroke="none" stroke-width="1"/><ellipse cx="657.1" cy="34.8" rx="1.7" ry="2.8" transform="rotate(-15 657.1 34.8)" fill="#8b8b8e" stroke="none" stroke-width="1"/>
<ellipse cx="696.9" cy="61.7" rx="3.0" ry="4.6" transform="rotate(-15 696.9 61.7)" fill="#2e2e31" stroke="none" stroke-width="1"/><ellipse cx="697.9" cy="62.3" rx="1.7" ry="2.8" transform="rotate(-15 697.9 62.3)" fill="#8b8b8e" stroke="none" stroke-width="1"/>
<ellipse cx="699.7" cy="117.7" rx="3.0" ry="4.6" transform="rotate(-15 699.7 117.7)" fill="#2e2e31" stroke="none" stroke-width="1"/><ellipse cx="700.7" cy="118.3" rx="1.7" ry="2.8" transform="rotate(-15 700.7 118.3)" fill="#8b8b8e" stroke="none" stroke-width="1"/>
<ellipse cx="665.5" cy="56.0" rx="5.5" ry="4.0" transform="rotate(-30 665.5 56.0)" fill="#8f8f92" stroke="none" stroke-width="1"/><ellipse cx="667.0" cy="55.4" rx="3.2" ry="2.2" transform="rotate(-30 667.0 55.4)" fill="#bdbdbf" stroke="none" stroke-width="1"/>
<ellipse cx="665.5" cy="123.4" rx="4.5" ry="3.6" transform="rotate(-30 665.5 123.4)" fill="#8f8f92" stroke="none" stroke-width="1"/><ellipse cx="665.5" cy="123.9" rx="2.4" ry="2.0" transform="rotate(-30 665.5 123.9)" fill="#d8d8da" stroke="none" stroke-width="1"/>
<ellipse cx="647.6" cy="91.0" rx="23.5" ry="35.0" transform="rotate(-15 647.6 91.0)" fill="#c8452d" stroke="none" stroke-width="1"/>
<ellipse cx="645.6" cy="91.5" rx="23.5" ry="35.0" transform="rotate(-15 645.6 91.5)" fill="url(#bMix)" stroke="#9b6a30" stroke-width="1.4"/>
<ellipse cx="644.6" cy="92.0" rx="16.0" ry="26.0" transform="rotate(-15 644.6 92.0)" fill="none" stroke="#8f8a42" stroke-width="0.7" opacity="0.7"/>
<ellipse cx="620.7" cy="100.5" rx="20.0" ry="35.0" transform="rotate(-12 620.7 100.5)" fill="#f2b5a3" stroke="none" stroke-width="1" opacity="0.6"/>
<ellipse cx="533.8" cy="134.4" rx="39.6" ry="71.2" transform="rotate(-18 533.8 134.4)" fill="#19191b" stroke="none" stroke-width="1"/>
<ellipse cx="526.6" cy="136.6" rx="39.2" ry="70.7" transform="rotate(-18 526.6 136.6)" fill="url(#bFaceA)" stroke="#8a8a8d" stroke-width="0.5"/>
<ellipse cx="508.2" cy="83.5" rx="3.2" ry="4.6" transform="rotate(-18 508.2 83.5)" fill="#4a4a4e" stroke="none" stroke-width="1"/><ellipse cx="509.2" cy="84.1" rx="1.8" ry="2.8" transform="rotate(-18 509.2 84.1)" fill="#e2e2e4" stroke="none" stroke-width="1"/>
<ellipse cx="552.8" cy="178.3" rx="3.2" ry="4.6" transform="rotate(-18 552.8 178.3)" fill="#3c3c40" stroke="none" stroke-width="1"/><ellipse cx="553.8" cy="178.9" rx="1.8" ry="2.8" transform="rotate(-18 553.8 178.9)" fill="#d0d0d2" stroke="none" stroke-width="1"/>
<ellipse cx="520.5" cy="178.3" rx="3.4" ry="4.2" transform="rotate(-18 520.5 178.3)" fill="#b6b6b9" stroke="none" stroke-width="1"/><ellipse cx="521.0" cy="178.6" rx="1.8" ry="2.4" transform="rotate(-18 521.0 178.6)" fill="#e9e9eb" stroke="none" stroke-width="1"/>
<ellipse cx="495.9" cy="121.4" rx="2.2" ry="3.2" transform="rotate(-18 495.9 121.4)" fill="#b9b9bc" stroke="none" stroke-width="1"/><ellipse cx="496.3" cy="121.6" rx="1.1" ry="1.6" transform="rotate(-18 496.3 121.6)" fill="#8a8a8d" stroke="none" stroke-width="1"/>
<path d="M580.1 153.1 L590.8 147.7 L599.3 164.8 L591.9 173.3 L586.5 168.0Z" fill="#9a7044" stroke="#6d4a28" stroke-width="0.5"/>
<path d="M564.1 90.1 L608.9 75.8 L620.7 140.3 L584.4 156.3Z" fill="url(#bCyl)" stroke="none" stroke-width="0.5"/>
<ellipse cx="574.2" cy="123.6" rx="10.0" ry="33.0" transform="rotate(-12 574.2 123.6)" fill="#77787b" stroke="none" stroke-width="1" opacity="0.0"/>
<path d="M564.1 90.1 L580.1 85.2 L594.0 150.9 L584.4 156.3Z" fill="#a9aaad" stroke="none" stroke-width="0.5" opacity="0.45"/>
<ellipse cx="562.8" cy="124.3" rx="24.5" ry="39.5" transform="rotate(-14 562.8 124.3)" fill="#a07a50" stroke="#6f5236" stroke-width="0.6"/>
<ellipse cx="555.5" cy="126.5" rx="14.5" ry="30.0" transform="rotate(-14 555.5 126.5)" fill="#92806c" stroke="none" stroke-width="1"/>
<ellipse cx="546.0" cy="117.9" rx="3.2" ry="4.2" transform="rotate(-12 546.0 117.9)" fill="#2a2a2c" stroke="none" stroke-width="1"/>
<ellipse cx="553.5" cy="121.1" rx="3.0" ry="6.0" transform="rotate(-12 553.5 121.1)" fill="#d9d9db" stroke="none" stroke-width="1" opacity="0.8"/>
<ellipse cx="613.2" cy="109.3" rx="8.5" ry="33.5" transform="rotate(-12 613.2 109.3)" fill="#3b3b3d" stroke="#8b6233" stroke-width="2.2"/>
<path d="M614.3 129.6 L623.9 125.3 L634.5 146.7 L626.0 156.3 L618.5 155.2Z" fill="#9a6d3c" stroke="#6d4a28" stroke-width="0.5"/>
<path d="M584.4 114.2 L619.6 97.6 L655.9 83.7 L658.4 101.9 L621.7 107.8 L585.9 117.2Z" fill="url(#bBeam)" stroke="none" stroke-width="0.5"/>
<mask id="rimmask" maskUnits="userSpaceOnUse" x="470" y="50" width="120" height="170"><rect x="470" y="50" width="120" height="170" fill="#fff"/><ellipse cx="526.6" cy="136.6" rx="39.2" ry="70.7" transform="rotate(-18 526.6 136.6)" fill="#000" stroke="none" stroke-width="1"/></mask>
<g mask="url(#rimmask)"><ellipse cx="533.8" cy="134.4" rx="39.6" ry="71.2" transform="rotate(-18 533.8 134.4)" fill="#19191b" stroke="none" stroke-width="1"/></g>
<circle cx="558.80" cy="113.60" r="1.60" fill="#c9c9cb" stroke="#555" stroke-width="0.5"/>
<text x="581.88" y="49.32" font-size="10.3" text-anchor="middle" fill="#111" stroke="#111" stroke-width="0.28" font-weight="bold" transform="rotate(-23.5 581.88 49.32)">Bottom-up view</text>
<line x1="575.40" y1="68.40" x2="603.48" y2="55.08" stroke="#111" stroke-width="1.6"/>
<path d="M608.9 52.6L600.8 53.1L603.4 58.5Z" fill="#111" stroke="none" stroke-width="1"/>
<path d="M694.2 97.2 L694.2 118.8 L707.5 118.8 L707.5 137.9" fill="none" stroke="#111" stroke-width="1.4" stroke-dasharray="3 2"/><path d="M703.6 136.9L711.4 136.9L707.5 144.5Z" fill="#111" stroke="none" stroke-width="1"/>
<path d="M666.1 124.2 L666.1 150.5" fill="none" stroke="#111" stroke-width="1.4" stroke-dasharray="3 2"/><path d="M662.2 149.5L670.0 149.5L666.1 157.1Z" fill="#111" stroke="none" stroke-width="1"/>
<path d="M638.4 124.2 L638.4 144.0 L652.1 144.0 L652.1 162.7" fill="none" stroke="#111" stroke-width="1.4" stroke-dasharray="3 2"/><path d="M648.2 161.7L656.0 161.7L652.1 169.3Z" fill="#111" stroke="none" stroke-width="1"/>
<path d="M618.6 144.0 L618.6 158.4 L634.1 158.4 L634.1 175.7" fill="none" stroke="#111" stroke-width="1.4" stroke-dasharray="3 2"/><path d="M630.2 174.7L638.0 174.7L634.1 182.3Z" fill="#111" stroke="none" stroke-width="1"/>
<path d="M604.2 142.2 L604.2 171.0 L617.5 171.0 L617.5 187.9" fill="none" stroke="#111" stroke-width="1.4" stroke-dasharray="3 2"/><path d="M613.6 186.9L621.4 186.9L617.5 194.5Z" fill="#111" stroke="none" stroke-width="1"/>
<path d="M587.3 169.2 L587.3 183.6 L600.6 183.6 L600.6 203.8" fill="none" stroke="#111" stroke-width="1.4" stroke-dasharray="3 2"/><path d="M596.7 202.8L604.5 202.8L600.6 210.4Z" fill="#111" stroke="none" stroke-width="1"/>
<path d="M559.9 187.2 L559.9 205.2 L574.3 205.2 L574.3 223.9" fill="none" stroke="#111" stroke-width="1.4" stroke-dasharray="3 2"/><path d="M570.4 222.9L578.2 222.9L574.3 230.5Z" fill="#111" stroke="none" stroke-width="1"/>
<text x="700.00" y="152.50" font-size="10.3" text-anchor="start" fill="#111" stroke="#111" stroke-width="0.28" font-weight="bold">Holder B</text>
<text x="665.00" y="166.50" font-size="10.3" text-anchor="start" fill="#111" stroke="#111" stroke-width="0.28" font-weight="bold">Micromixer</text>
<text x="646.00" y="181.60" font-size="10.3" text-anchor="start" fill="#111" stroke="#111" stroke-width="0.28" font-weight="bold">Membrane</text>
<text x="628.00" y="194.10" font-size="10.3" text-anchor="start" fill="#111" stroke="#111" stroke-width="0.28" font-weight="bold">Electrode B</text>
<text x="609.00" y="208.50" font-size="10.3" text-anchor="start" fill="#111" stroke="#111" stroke-width="0.28" font-weight="bold">Transducer</text>
<text x="584.00" y="221.10" font-size="10.3" text-anchor="start" fill="#111" stroke="#111" stroke-width="0.28" font-weight="bold">Electrode A</text>
<text x="563.50" y="242.60" font-size="10.3" text-anchor="start" fill="#111" stroke="#111" stroke-width="0.28" font-weight="bold">Holder A</text>
<defs>
<linearGradient id="cbar" x1="0" x2="1" y1="0" y2="0"><stop offset="0" stop-color="#10108a"/><stop offset="0.12" stop-color="#1a2fe0"/><stop offset="0.3" stop-color="#1ea0f0"/><stop offset="0.45" stop-color="#35e0d0"/><stop offset="0.58" stop-color="#a0f060"/><stop offset="0.7" stop-color="#f5e030"/><stop offset="0.83" stop-color="#f06020"/><stop offset="0.93" stop-color="#c01818"/><stop offset="1" stop-color="#7a0c0c"/></linearGradient>
<linearGradient id="c51" x1="0.9" x2="0.1" y1="0" y2="1"><stop offset="0" stop-color="#e8a050"/><stop offset="0.25" stop-color="#7ad0c0"/><stop offset="0.5" stop-color="#50b0d8"/><stop offset="0.7" stop-color="#d8c860"/><stop offset="0.85" stop-color="#e0a858"/><stop offset="1" stop-color="#3a3f9a"/></linearGradient>
<linearGradient id="c45" x1="1" x2="0" y1="0" y2="1"><stop offset="0" stop-color="#4a55b0"/><stop offset="0.5" stop-color="#6fa5d8"/><stop offset="1" stop-color="#88c8e0"/></linearGradient>
</defs>
<text x="7.50" y="271.50" font-size="13" text-anchor="start" fill="#111" stroke="#111" stroke-width="0.28" font-weight="bold">c</text>
<circle cx="34.00" cy="298.00" r="25.00" fill="#fff" stroke="#e1e1e8" stroke-width="0.8"/><circle cx="34.00" cy="298.00" r="11.40" fill="none" stroke="#e6e6ec" stroke-width="0.7"/><path d="M38.49 276.87 A21.6 21.6 0 0 1 42.75 278.25 L39.35 285.93 A13.2 13.2 0 0 1 41.72 287.29 L46.63 280.48 A21.6 21.6 0 0 1 49.97 283.45 L43.76 289.11 A13.2 13.2 0 0 1 45.38 291.31 L52.62 287.06 A21.6 21.6 0 0 1 54.48 291.13 L46.51 293.80 A13.2 13.2 0 0 1 47.11 296.47 L55.45 295.49 A21.6 21.6 0 0 1 55.51 299.97 L47.15 299.20 A13.2 13.2 0 0 1 46.62 301.88 L54.64 304.36 A21.6 21.6 0 0 1 52.89 308.47 L45.54 304.40 A13.2 13.2 0 0 1 43.98 306.64 L50.33 312.14 A21.6 21.6 0 0 1 47.07 315.20 L41.98 308.51 A13.2 13.2 0 0 1 39.65 309.93 L43.24 317.52 A21.6 21.6 0 0 1 39.02 319.01 L37.07 310.84 A13.2 13.2 0 0 1 34.36 311.20 L34.59 319.59 A21.6 21.6 0 0 1 30.13 319.25 L31.63 310.99 A13.2 13.2 0 0 1 29.01 310.22 L25.83 318.00 A21.6 21.6 0 0 1 21.89 315.88 L26.60 308.93 A13.2 13.2 0 0 1 24.50 307.17" fill="none" stroke="#2b2d7e" stroke-width="1.0" stroke-linejoin="round"/><line x1="34.70" y1="278.20" x2="38.49" y2="276.87" stroke="#2b2d7e" stroke-width="1.0"/><circle cx="34.70" cy="278.20" r="1.90" fill="#2b2d7e" stroke="none" stroke-width="1"/><path d="M14.9 287.8L18.7 296.6L14.9 304.5M18.7 296.6Q20.0 303.0 24.5 307.2" fill="none" stroke="#2b2d7e" stroke-width="1.0"/><circle cx="14.90" cy="287.80" r="1.90" fill="#2b2d7e" stroke="none" stroke-width="1"/><circle cx="14.90" cy="304.50" r="1.90" fill="#2b2d7e" stroke="none" stroke-width="1"/>
<circle cx="90.00" cy="298.00" r="25.00" fill="#fff" stroke="#e1e1e8" stroke-width="0.8"/><circle cx="90.00" cy="298.00" r="11.40" fill="none" stroke="#e6e6ec" stroke-width="0.7"/><path d="M94.49 276.87 A21.6 21.6 0 0 1 98.75 278.25 L95.35 285.93 A13.2 13.2 0 0 1 97.72 287.29 L102.63 280.48 A21.6 21.6 0 0 1 105.97 283.45 L99.76 289.11 A13.2 13.2 0 0 1 101.38 291.31 L108.62 287.06 A21.6 21.6 0 0 1 110.48 291.13 L102.51 293.80 A13.2 13.2 0 0 1 103.11 296.47 L111.45 295.49 A21.6 21.6 0 0 1 111.51 299.97 L103.15 299.20 A13.2 13.2 0 0 1 102.62 301.88 L110.64 304.36 A21.6 21.6 0 0 1 108.89 308.47 L101.54 304.40 A13.2 13.2 0 0 1 99.98 306.64 L106.33 312.14 A21.6 21.6 0 0 1 103.07 315.20 L97.98 308.51 A13.2 13.2 0 0 1 95.65 309.93 L99.24 317.52 A21.6 21.6 0 0 1 95.02 319.01 L93.07 310.84 A13.2 13.2 0 0 1 90.36 311.20 L90.59 319.59 A21.6 21.6 0 0 1 86.13 319.25 L87.63 310.99 A13.2 13.2 0 0 1 85.01 310.22 L81.83 318.00 A21.6 21.6 0 0 1 77.89 315.88 L82.60 308.93 A13.2 13.2 0 0 1 80.50 307.17" fill="none" stroke="url(#c45)" stroke-width="1.0" stroke-linejoin="round"/><line x1="90.70" y1="278.20" x2="94.49" y2="276.87" stroke="#2b2d7e" stroke-width="1.0"/><circle cx="90.70" cy="278.20" r="1.90" fill="#2b2d7e" stroke="none" stroke-width="1"/><path d="M70.9 287.8L74.7 296.6L70.9 304.5M74.7 296.6Q76.0 303.0 80.5 307.2" fill="none" stroke="#2b2d7e" stroke-width="1.0"/><circle cx="70.90" cy="287.80" r="1.90" fill="#2b2d7e" stroke="none" stroke-width="1"/><circle cx="70.90" cy="304.50" r="1.90" fill="#2b2d7e" stroke="none" stroke-width="1"/>
<circle cx="147.00" cy="298.00" r="25.00" fill="#fff" stroke="#e1e1e8" stroke-width="0.8"/><circle cx="147.00" cy="298.00" r="11.40" fill="none" stroke="#e6e6ec" stroke-width="0.7"/><path d="M151.49 276.87 A21.6 21.6 0 0 1 155.75 278.25 L152.35 285.93 A13.2 13.2 0 0 1 154.72 287.29 L159.63 280.48 A21.6 21.6 0 0 1 162.97 283.45 L156.76 289.11 A13.2 13.2 0 0 1 158.38 291.31 L165.62 287.06 A21.6 21.6 0 0 1 167.48 291.13 L159.51 293.80 A13.2 13.2 0 0 1 160.11 296.47 L168.45 295.49 A21.6 21.6 0 0 1 168.51 299.97 L160.15 299.20 A13.2 13.2 0 0 1 159.62 301.88 L167.64 304.36 A21.6 21.6 0 0 1 165.89 308.47 L158.54 304.40 A13.2 13.2 0 0 1 156.98 306.64 L163.33 312.14 A21.6 21.6 0 0 1 160.07 315.20 L154.98 308.51 A13.2 13.2 0 0 1 152.65 309.93 L156.24 317.52 A21.6 21.6 0 0 1 152.02 319.01 L150.07 310.84 A13.2 13.2 0 0 1 147.36 311.20 L147.59 319.59 A21.6 21.6 0 0 1 143.13 319.25 L144.63 310.99 A13.2 13.2 0 0 1 142.01 310.22 L138.83 318.00 A21.6 21.6 0 0 1 134.89 315.88 L139.60 308.93 A13.2 13.2 0 0 1 137.50 307.17" fill="none" stroke="url(#c51)" stroke-width="1.0" stroke-linejoin="round"/><line x1="147.70" y1="278.20" x2="151.49" y2="276.87" stroke="#2b2d7e" stroke-width="1.0"/><circle cx="147.70" cy="278.20" r="1.90" fill="#2b2d7e" stroke="none" stroke-width="1"/><path d="M127.9 287.8L131.7 296.6L127.9 304.5M131.7 296.6Q133.0 303.0 137.5 307.2" fill="none" stroke="#2b2d7e" stroke-width="1.0"/><circle cx="127.90" cy="287.80" r="1.90" fill="#2b2d7e" stroke="none" stroke-width="1"/><circle cx="127.90" cy="304.50" r="1.90" fill="#2b2d7e" stroke="none" stroke-width="1"/>
<circle cx="63.00" cy="373.00" r="25.00" fill="#fff" stroke="#e1e1e8" stroke-width="0.8"/><circle cx="63.00" cy="373.00" r="11.40" fill="none" stroke="#e6e6ec" stroke-width="0.7"/><path d="M67.49 351.87 A21.6 21.6 0 0 1 71.75 353.25 L68.35 360.93 A13.2 13.2 0 0 1 70.72 362.29 L75.63 355.48 A21.6 21.6 0 0 1 78.97 358.45 L72.76 364.11 A13.2 13.2 0 0 1 74.38 366.31 L81.62 362.06 A21.6 21.6 0 0 1 83.48 366.13 L75.51 368.80 A13.2 13.2 0 0 1 76.11 371.47 L84.45 370.49 A21.6 21.6 0 0 1 84.51 374.97 L76.15 374.20 A13.2 13.2 0 0 1 75.62 376.88 L83.64 379.36 A21.6 21.6 0 0 1 81.89 383.47 L74.54 379.40 A13.2 13.2 0 0 1 72.98 381.64 L79.33 387.14 A21.6 21.6 0 0 1 76.07 390.20 L70.98 383.51 A13.2 13.2 0 0 1 68.65 384.93 L72.24 392.52 A21.6 21.6 0 0 1 68.02 394.01 L66.07 385.84 A13.2 13.2 0 0 1 63.36 386.20 L63.59 394.59 A21.6 21.6 0 0 1 59.13 394.25 L60.63 385.99 A13.2 13.2 0 0 1 58.01 385.22 L54.83 393.00 A21.6 21.6 0 0 1 50.89 390.88 L55.60 383.93 A13.2 13.2 0 0 1 53.50 382.17" fill="none" stroke="#34368a" stroke-width="1.0" stroke-linejoin="round"/><line x1="63.70" y1="353.20" x2="67.49" y2="351.87" stroke="#2b2d7e" stroke-width="1.0"/><circle cx="63.70" cy="353.20" r="1.90" fill="#2b2d7e" stroke="none" stroke-width="1"/><path d="M43.9 362.8L47.7 371.6L43.9 379.5M47.7 371.6Q49.0 378.0 53.5 382.2" fill="none" stroke="#2b2d7e" stroke-width="1.0"/><circle cx="43.90" cy="362.80" r="1.90" fill="#2b2d7e" stroke="none" stroke-width="1"/><circle cx="43.90" cy="379.50" r="1.90" fill="#2b2d7e" stroke="none" stroke-width="1"/>
<circle cx="121.60" cy="373.00" r="25.00" fill="#fff" stroke="#e1e1e8" stroke-width="0.8"/><circle cx="121.60" cy="373.00" r="11.40" fill="none" stroke="#e6e6ec" stroke-width="0.7"/><path d="M126.09 351.87 A21.6 21.6 0 0 1 130.35 353.25 L126.95 360.93 A13.2 13.2 0 0 1 129.32 362.29 L134.23 355.48 A21.6 21.6 0 0 1 137.57 358.45 L131.36 364.11 A13.2 13.2 0 0 1 132.98 366.31 L140.22 362.06 A21.6 21.6 0 0 1 142.08 366.13 L134.11 368.80 A13.2 13.2 0 0 1 134.71 371.47 L143.05 370.49 A21.6 21.6 0 0 1 143.11 374.97 L134.75 374.20 A13.2 13.2 0 0 1 134.22 376.88 L142.24 379.36 A21.6 21.6 0 0 1 140.49 383.47 L133.14 379.40 A13.2 13.2 0 0 1 131.58 381.64 L137.93 387.14 A21.6 21.6 0 0 1 134.67 390.20 L129.58 383.51 A13.2 13.2 0 0 1 127.25 384.93 L130.84 392.52 A21.6 21.6 0 0 1 126.62 394.01 L124.67 385.84 A13.2 13.2 0 0 1 121.96 386.20 L122.19 394.59 A21.6 21.6 0 0 1 117.73 394.25 L119.23 385.99 A13.2 13.2 0 0 1 116.61 385.22 L113.43 393.00 A21.6 21.6 0 0 1 109.49 390.88 L114.20 383.93 A13.2 13.2 0 0 1 112.10 382.17" fill="none" stroke="#34368a" stroke-width="1.0" stroke-linejoin="round"/><line x1="122.30" y1="353.20" x2="126.09" y2="351.87" stroke="#2b2d7e" stroke-width="1.0"/><circle cx="122.30" cy="353.20" r="1.90" fill="#2b2d7e" stroke="none" stroke-width="1"/><path d="M102.5 362.8L106.3 371.6L102.5 379.5M106.3 371.6Q107.6 378.0 112.1 382.2" fill="none" stroke="#2b2d7e" stroke-width="1.0"/><circle cx="102.50" cy="362.80" r="1.90" fill="#2b2d7e" stroke="none" stroke-width="1"/><circle cx="102.50" cy="379.50" r="1.90" fill="#2b2d7e" stroke="none" stroke-width="1"/>
<rect x="119.00" y="269.70" width="57.00" height="71.50" fill="none" stroke="#111" stroke-width="1" stroke-dasharray="2 1.5"/>
<text x="37.00" y="338.30" font-size="10.4" text-anchor="middle" fill="#111" stroke="#111" stroke-width="0.28" font-weight="bold">40 kHz</text>
<text x="92.00" y="338.30" font-size="10.4" text-anchor="middle" fill="#111" stroke="#111" stroke-width="0.28" font-weight="bold">45 kHz</text>
<text x="149.50" y="338.30" font-size="10.4" text-anchor="middle" fill="#111" stroke="#111" stroke-width="0.28" font-weight="bold">51 kHz</text>
<text x="65.00" y="411.20" font-size="10.4" text-anchor="middle" fill="#111" stroke="#111" stroke-width="0.28" font-weight="bold">55 kHz</text>
<text x="124.00" y="411.20" font-size="10.4" text-anchor="middle" fill="#111" stroke="#111" stroke-width="0.28" font-weight="bold">60 kHz</text>
<rect x="24.00" y="416.00" width="147.00" height="4.40" fill="url(#cbar)" stroke="none" stroke-width="1"/>
<text x="24.00" y="428.60" font-size="7.2" text-anchor="start" fill="#111" stroke="#111" stroke-width="0.18" font-weight="bold">Min</text>
<text x="175.50" y="428.60" font-size="7.2" text-anchor="end" fill="#111" stroke="#111" stroke-width="0.18" font-weight="bold">Max</text>
<text x="101.00" y="430.20" font-size="7.4" text-anchor="middle" fill="#111" stroke="#111" stroke-width="0.18" font-weight="bold">Overall sound pressure</text>
<text x="183.50" y="271.50" font-size="13" text-anchor="start" fill="#111" stroke="#111" stroke-width="0.28" font-weight="bold">d</text>
<rect x="197.50" y="272.50" width="87.10" height="60.50" fill="#fff" stroke="#3a3a3a" stroke-width="0.8"/><path d="M197.50 319.57 L204.76 320.78 L212.02 321.98 L219.28 323.39 L223.63 324.39 L229.44 326.00 L232.34 327.00 L233.79 325.39 L235.24 314.95 L236.11 290.86 L236.70 276.80 L237.42 286.84 L238.15 300.90 L239.60 311.94 L241.05 316.56 L243.95 319.37 L248.31 320.98 L255.57 321.98 L270.08 323.18 L284.60 323.99" fill="none" stroke="#8d8d8d" stroke-width="1.5" stroke-linejoin="round" opacity="0.6"/><path d="M197.50 319.57 L204.76 320.78 L212.02 321.98 L219.28 323.39 L223.63 324.39 L229.44 326.00 L232.34 327.00 L233.79 325.39 L235.24 314.95 L236.11 290.86 L236.70 276.80 L237.42 286.84 L238.15 300.90 L239.60 311.94 L241.05 316.56 L243.95 319.37 L248.31 320.98 L255.57 321.98 L270.08 323.18 L284.60 323.99" fill="none" stroke="#c85a5a" stroke-width="0.9" stroke-linejoin="round"/><line x1="197.50" y1="333.00" x2="197.50" y2="331.00" stroke="#3a3a3a" stroke-width="0.7"/><text x="197.50" y="338.00" font-size="5.5" text-anchor="middle" fill="#222" stroke="#222" stroke-width="0.18" font-weight="bold">30</text><line x1="212.02" y1="333.00" x2="212.02" y2="331.00" stroke="#3a3a3a" stroke-width="0.7"/><text x="212.02" y="338.00" font-size="5.5" text-anchor="middle" fill="#222" stroke="#222" stroke-width="0.18" font-weight="bold">40</text><line x1="226.53" y1="333.00" x2="226.53" y2="331.00" stroke="#3a3a3a" stroke-width="0.7"/><text x="226.53" y="338.00" font-size="5.5" text-anchor="middle" fill="#222" stroke="#222" stroke-width="0.18" font-weight="bold">50</text><line x1="241.05" y1="333.00" x2="241.05" y2="331.00" stroke="#3a3a3a" stroke-width="0.7"/><text x="241.05" y="338.00" font-size="5.5" text-anchor="middle" fill="#222" stroke="#222" stroke-width="0.18" font-weight="bold">60</text><line x1="255.57" y1="333.00" x2="255.57" y2="331.00" stroke="#3a3a3a" stroke-width="0.7"/><text x="255.57" y="338.00" font-size="5.5" text-anchor="middle" fill="#222" stroke="#222" stroke-width="0.18" font-weight="bold">70</text><line x1="270.08" y1="333.00" x2="270.08" y2="331.00" stroke="#3a3a3a" stroke-width="0.7"/><text x="270.08" y="338.00" font-size="5.5" text-anchor="middle" fill="#222" stroke="#222" stroke-width="0.18" font-weight="bold">80</text><line x1="284.60" y1="333.00" x2="284.60" y2="331.00" stroke="#3a3a3a" stroke-width="0.7"/><text x="284.60" y="338.00" font-size="5.5" text-anchor="middle" fill="#222" stroke="#222" stroke-width="0.18" font-weight="bold">90</text><line x1="204.76" y1="333.00" x2="204.76" y2="331.80" stroke="#3a3a3a" stroke-width="0.6"/><line x1="219.28" y1="333.00" x2="219.28" y2="331.80" stroke="#3a3a3a" stroke-width="0.6"/><line x1="233.79" y1="333.00" x2="233.79" y2="331.80" stroke="#3a3a3a" stroke-width="0.6"/><line x1="248.31" y1="333.00" x2="248.31" y2="331.80" stroke="#3a3a3a" stroke-width="0.6"/><line x1="262.83" y1="333.00" x2="262.83" y2="331.80" stroke="#3a3a3a" stroke-width="0.6"/><line x1="277.34" y1="333.00" x2="277.34" y2="331.80" stroke="#3a3a3a" stroke-width="0.6"/><line x1="197.50" y1="327.00" x2="199.50" y2="327.00" stroke="#3a3a3a" stroke-width="0.7"/><text x="195.50" y="329.00" font-size="5.5" text-anchor="end" fill="#222" stroke="#222" stroke-width="0.18" font-weight="bold">0</text><line x1="197.50" y1="316.96" x2="199.50" y2="316.96" stroke="#3a3a3a" stroke-width="0.7"/><text x="195.50" y="318.96" font-size="5.5" text-anchor="end" fill="#222" stroke="#222" stroke-width="0.18" font-weight="bold">5</text><line x1="197.50" y1="306.92" x2="199.50" y2="306.92" stroke="#3a3a3a" stroke-width="0.7"/><text x="195.50" y="308.92" font-size="5.5" text-anchor="end" fill="#222" stroke="#222" stroke-width="0.18" font-weight="bold">10</text><line x1="197.50" y1="296.88" x2="199.50" y2="296.88" stroke="#3a3a3a" stroke-width="0.7"/><text x="195.50" y="298.88" font-size="5.5" text-anchor="end" fill="#222" stroke="#222" stroke-width="0.18" font-weight="bold">15</text><line x1="197.50" y1="286.84" x2="199.50" y2="286.84" stroke="#3a3a3a" stroke-width="0.7"/><text x="195.50" y="288.84" font-size="5.5" text-anchor="end" fill="#222" stroke="#222" stroke-width="0.18" font-weight="bold">20</text><line x1="197.50" y1="276.80" x2="199.50" y2="276.80" stroke="#3a3a3a" stroke-width="0.7"/><text x="195.50" y="278.80" font-size="5.5" text-anchor="end" fill="#222" stroke="#222" stroke-width="0.18" font-weight="bold">25</text><text x="241.05" y="344.80" font-size="5.4" text-anchor="middle" fill="#222" stroke="#222" stroke-width="0.18" font-weight="bold">Frequency (kHz)</text><text x="187.30" y="302.75" font-size="6.1" text-anchor="middle" fill="#222" stroke="#222" stroke-width="0.18" font-weight="bold" transform="rotate(-90 187.30 302.75)">Impedance (k&#937;)</text><line x1="253.00" y1="277.00" x2="259.00" y2="277.00" stroke="#c85a5a" stroke-width="0.9"/><text x="260.50" y="278.50" font-size="4.2" text-anchor="start" fill="#222" stroke="#222" stroke-width="0.18" font-weight="bold">Simulation</text>
<rect x="198.80" y="354.30" width="86.50" height="59.00" fill="#fff" stroke="#3a3a3a" stroke-width="0.8"/><path d="M198.80 394.98 L201.68 396.64 L204.57 397.74 L206.01 396.64 L207.45 398.30 L213.22 400.50 L220.43 403.82 L226.19 406.58 L229.08 408.23 L230.52 407.13 L231.96 404.37 L233.40 405.47 L234.84 407.68 L236.28 399.40 L237.15 374.56 L237.73 360.21 L238.59 374.56 L239.89 386.70 L242.05 393.33 L246.38 397.74 L252.14 400.50 L263.68 403.26 L285.30 405.47" fill="none" stroke="#8d8d8d" stroke-width="1.5" stroke-linejoin="round" opacity="0.6"/><path d="M198.80 394.98 L201.68 396.64 L204.57 397.74 L206.01 396.64 L207.45 398.30 L213.22 400.50 L220.43 403.82 L226.19 406.58 L229.08 408.23 L230.52 407.13 L231.96 404.37 L233.40 405.47 L234.84 407.68 L236.28 399.40 L237.15 374.56 L237.73 360.21 L238.59 374.56 L239.89 386.70 L242.05 393.33 L246.38 397.74 L252.14 400.50 L263.68 403.26 L285.30 405.47" fill="none" stroke="#c85a5a" stroke-width="0.9" stroke-linejoin="round"/><line x1="198.80" y1="413.30" x2="198.80" y2="411.30" stroke="#3a3a3a" stroke-width="0.7"/><text x="198.80" y="420.60" font-size="5.5" text-anchor="middle" fill="#222" stroke="#222" stroke-width="0.18" font-weight="bold">30</text><line x1="213.22" y1="413.30" x2="213.22" y2="411.30" stroke="#3a3a3a" stroke-width="0.7"/><text x="213.22" y="420.60" font-size="5.5" text-anchor="middle" fill="#222" stroke="#222" stroke-width="0.18" font-weight="bold">40</text><line x1="227.63" y1="413.30" x2="227.63" y2="411.30" stroke="#3a3a3a" stroke-width="0.7"/><text x="227.63" y="420.60" font-size="5.5" text-anchor="middle" fill="#222" stroke="#222" stroke-width="0.18" font-weight="bold">50</text><line x1="242.05" y1="413.30" x2="242.05" y2="411.30" stroke="#3a3a3a" stroke-width="0.7"/><text x="242.05" y="420.60" font-size="5.5" text-anchor="middle" fill="#222" stroke="#222" stroke-width="0.18" font-weight="bold">60</text><line x1="256.47" y1="413.30" x2="256.47" y2="411.30" stroke="#3a3a3a" stroke-width="0.7"/><text x="256.47" y="420.60" font-size="5.5" text-anchor="middle" fill="#222" stroke="#222" stroke-width="0.18" font-weight="bold">70</text><line x1="270.88" y1="413.30" x2="270.88" y2="411.30" stroke="#3a3a3a" stroke-width="0.7"/><text x="270.88" y="420.60" font-size="5.5" text-anchor="middle" fill="#222" stroke="#222" stroke-width="0.18" font-weight="bold">80</text><line x1="285.30" y1="413.30" x2="285.30" y2="411.30" stroke="#3a3a3a" stroke-width="0.7"/><text x="285.30" y="420.60" font-size="5.5" text-anchor="middle" fill="#222" stroke="#222" stroke-width="0.18" font-weight="bold">90</text><line x1="206.01" y1="413.30" x2="206.01" y2="412.10" stroke="#3a3a3a" stroke-width="0.6"/><line x1="220.43" y1="413.30" x2="220.43" y2="412.10" stroke="#3a3a3a" stroke-width="0.6"/><line x1="234.84" y1="413.30" x2="234.84" y2="412.10" stroke="#3a3a3a" stroke-width="0.6"/><line x1="249.26" y1="413.30" x2="249.26" y2="412.10" stroke="#3a3a3a" stroke-width="0.6"/><line x1="263.68" y1="413.30" x2="263.68" y2="412.10" stroke="#3a3a3a" stroke-width="0.6"/><line x1="278.09" y1="413.30" x2="278.09" y2="412.10" stroke="#3a3a3a" stroke-width="0.6"/><line x1="198.80" y1="413.20" x2="200.80" y2="413.20" stroke="#3a3a3a" stroke-width="0.7"/><text x="196.80" y="415.20" font-size="5.5" text-anchor="end" fill="#222" stroke="#222" stroke-width="0.18" font-weight="bold">0</text><line x1="198.80" y1="402.16" x2="200.80" y2="402.16" stroke="#3a3a3a" stroke-width="0.7"/><text x="196.80" y="404.16" font-size="5.5" text-anchor="end" fill="#222" stroke="#222" stroke-width="0.18" font-weight="bold">2</text><line x1="198.80" y1="391.12" x2="200.80" y2="391.12" stroke="#3a3a3a" stroke-width="0.7"/><text x="196.80" y="393.12" font-size="5.5" text-anchor="end" fill="#222" stroke="#222" stroke-width="0.18" font-weight="bold">4</text><line x1="198.80" y1="380.08" x2="200.80" y2="380.08" stroke="#3a3a3a" stroke-width="0.7"/><text x="196.80" y="382.08" font-size="5.5" text-anchor="end" fill="#222" stroke="#222" stroke-width="0.18" font-weight="bold">6</text><line x1="198.80" y1="369.04" x2="200.80" y2="369.04" stroke="#3a3a3a" stroke-width="0.7"/><text x="196.80" y="371.04" font-size="5.5" text-anchor="end" fill="#222" stroke="#222" stroke-width="0.18" font-weight="bold">8</text><line x1="198.80" y1="358.00" x2="200.80" y2="358.00" stroke="#3a3a3a" stroke-width="0.7"/><text x="196.80" y="360.00" font-size="5.5" text-anchor="end" fill="#222" stroke="#222" stroke-width="0.18" font-weight="bold">10</text><text x="242.05" y="427.60" font-size="5.4" text-anchor="middle" fill="#222" stroke="#222" stroke-width="0.18" font-weight="bold">Frequency (kHz)</text><text x="188.20" y="383.80" font-size="6.1" text-anchor="middle" fill="#222" stroke="#222" stroke-width="0.18" font-weight="bold" transform="rotate(-90 188.20 383.80)">Impedance (k&#937;)</text><line x1="252.50" y1="358.70" x2="258.50" y2="358.70" stroke="#c85a5a" stroke-width="0.9"/><text x="260.00" y="360.20" font-size="4.2" text-anchor="start" fill="#222" stroke="#222" stroke-width="0.18" font-weight="bold">Experiment</text>
<defs>
<linearGradient id="eBg" x1="0" x2="0.25" y1="0" y2="1"><stop offset="0" stop-color="#7f98cd"/><stop offset="0.5" stop-color="#93a9d8"/><stop offset="1" stop-color="#a9bce3"/></linearGradient>
<linearGradient id="eSide" x1="0" x2="1" y1="0" y2="0"><stop offset="0" stop-color="#c9d5ef" stop-opacity="0.85"/><stop offset="0.5" stop-color="#eef2fb" stop-opacity="0.9"/><stop offset="1" stop-color="#b3c2e6" stop-opacity="0.8"/></linearGradient>
<clipPath id="eclip"><rect x="290.2" y="274" width="168.4" height="148"/></clipPath>
</defs>
<text x="295.00" y="271.50" font-size="13" text-anchor="start" fill="#111" stroke="#111" stroke-width="0.28" font-weight="bold">e</text>
<rect x="290.60" y="274.00" width="168.00" height="148.20" fill="url(#eBg)" stroke="none" stroke-width="1"/>
<g clip-path="url(#eclip)"><rect x="337.07" y="395.61" width="9.00" height="21.00" fill="#c3cfea" stroke="none" stroke-width="1"/><rect x="337.07" y="395.61" width="3.00" height="21.00" fill="#e4eaf7" stroke="none" stroke-width="1"/><rect x="399.64" y="395.61" width="9.00" height="21.00" fill="#c3cfea" stroke="none" stroke-width="1"/><rect x="399.64" y="395.61" width="3.00" height="21.00" fill="#e4eaf7" stroke="none" stroke-width="1"/><path d="M305.5 348.3A67 33 0 0 0 439.5 348.3L439.5 365.3A67 33 0 0 1 305.5 365.3Z" fill="#b3c3e8" stroke="none" stroke-width="1"/><path d="M305.5 365.3A67 33 0 0 0 439.5 365.3" fill="none" stroke="#dfe6f6" stroke-width="1.2"/><path d="M305.5 331.3A67 33 0 0 0 439.5 331.3L439.5 349.3A67 33 0 0 1 305.5 349.3Z" fill="#c0ceed" stroke="none" stroke-width="1"/><path d="M305.5 349.3A67 33 0 0 0 439.5 349.3" fill="none" stroke="#e8edf9" stroke-width="1.4"/><path d="M305.5 318.3A67 33 0 0 0 439.5 318.3L439.5 331.3A67 33 0 0 1 305.5 331.3Z" fill="url(#eSide)" stroke="none" stroke-width="1"/><path d="M305.5 331.3A67 33 0 0 0 439.5 331.3" fill="none" stroke="#f2f5fc" stroke-width="1.5"/><ellipse cx="372.48" cy="318.34" rx="67.00" ry="33.00" fill="#c4d1ee" stroke="#eef2fb" stroke-width="1.5"/><ellipse cx="372.48" cy="320.34" rx="55.00" ry="25.00" fill="#cedaf2" stroke="none" stroke-width="1"/><rect x="372.01" y="285.07" width="6.00" height="52.00" fill="#dde5f5" stroke="none" stroke-width="1" opacity="0.7"/><rect x="366.41" y="279.07" width="17.20" height="9.50" fill="#8c9ccb" stroke="none" stroke-width="1"/><ellipse cx="375.01" cy="288.57" rx="8.60" ry="4.20" fill="#8c9ccb" stroke="none" stroke-width="1"/><ellipse cx="375.01" cy="279.07" rx="8.60" ry="4.20" fill="#e6ecf8" stroke="#7687b9" stroke-width="1.1"/><ellipse cx="375.01" cy="279.07" rx="4.20" ry="2.00" fill="#9aa8d0" stroke="none" stroke-width="1"/><rect x="323.87" y="301.54" width="6.00" height="52.00" fill="#dde5f5" stroke="none" stroke-width="1" opacity="0.7"/><rect x="318.27" y="295.54" width="17.20" height="9.50" fill="#8c9ccb" stroke="none" stroke-width="1"/><ellipse cx="326.87" cy="305.04" rx="8.60" ry="4.20" fill="#8c9ccb" stroke="none" stroke-width="1"/><ellipse cx="326.87" cy="295.54" rx="8.60" ry="4.20" fill="#e6ecf8" stroke="#7687b9" stroke-width="1.1"/><ellipse cx="326.87" cy="295.54" rx="4.20" ry="2.00" fill="#9aa8d0" stroke="none" stroke-width="1"/><rect x="420.15" y="301.54" width="6.00" height="52.00" fill="#dde5f5" stroke="none" stroke-width="1" opacity="0.7"/><rect x="414.55" y="295.54" width="17.20" height="9.50" fill="#8c9ccb" stroke="none" stroke-width="1"/><ellipse cx="423.15" cy="305.04" rx="8.60" ry="4.20" fill="#8c9ccb" stroke="none" stroke-width="1"/><ellipse cx="423.15" cy="295.54" rx="8.60" ry="4.20" fill="#e6ecf8" stroke="#7687b9" stroke-width="1.1"/><ellipse cx="423.15" cy="295.54" rx="4.20" ry="2.00" fill="#9aa8d0" stroke="none" stroke-width="1"/><rect x="331.47" y="331.94" width="6.00" height="52.00" fill="#dde5f5" stroke="none" stroke-width="1" opacity="0.7"/><rect x="325.87" y="325.94" width="17.20" height="9.50" fill="#8c9ccb" stroke="none" stroke-width="1"/><ellipse cx="334.47" cy="335.44" rx="8.60" ry="4.20" fill="#8c9ccb" stroke="none" stroke-width="1"/><ellipse cx="334.47" cy="325.94" rx="8.60" ry="4.20" fill="#e6ecf8" stroke="#7687b9" stroke-width="1.1"/><ellipse cx="334.47" cy="325.94" rx="4.20" ry="2.00" fill="#9aa8d0" stroke="none" stroke-width="1"/><rect x="401.14" y="335.74" width="6.00" height="52.00" fill="#dde5f5" stroke="none" stroke-width="1" opacity="0.7"/><rect x="395.54" y="329.74" width="17.20" height="9.50" fill="#8c9ccb" stroke="none" stroke-width="1"/><ellipse cx="404.14" cy="339.24" rx="8.60" ry="4.20" fill="#8c9ccb" stroke="none" stroke-width="1"/><ellipse cx="404.14" cy="329.74" rx="8.60" ry="4.20" fill="#e6ecf8" stroke="#7687b9" stroke-width="1.1"/><ellipse cx="404.14" cy="329.74" rx="4.20" ry="2.00" fill="#9aa8d0" stroke="none" stroke-width="1"/><rect x="360.41" y="303.14" width="15.50" height="38.00" fill="#ebeff8" stroke="none" stroke-width="1" opacity="0.94" rx="3"/><rect x="360.91" y="303.14" width="4.00" height="38.00" fill="#ffffff" stroke="none" stroke-width="1" opacity="0.8" rx="2"/><rect x="383.98" y="290.47" width="15.50" height="44.34" fill="#ebeff8" stroke="none" stroke-width="1" opacity="0.94" rx="3"/><rect x="384.48" y="290.47" width="4.00" height="44.34" fill="#ffffff" stroke="none" stroke-width="1" opacity="0.8" rx="2"/><path d="M367.4 303.1C364.9 290.5 358.5 280.3 354.7 272.7" fill="none" stroke="#eef1f9" stroke-width="3.2"/><path d="M387.7 289.2C387.7 282.9 386.4 277.8 385.9 272.7" fill="none" stroke="#eef1f9" stroke-width="3.2"/><path d="M391.5 289.2C395.3 282.9 399.1 277.8 401.6 272.7" fill="none" stroke="#eef1f9" stroke-width="3.2"/><path d="M363.6 388.0C386.4 381.7 421.9 386.7 458.6 401.9" fill="none" stroke="#2b3658" stroke-width="0.9"/><path d="M437.1 348.7C447.2 347.5 454.8 353.8 458.6 358.9" fill="none" stroke="#2b3658" stroke-width="0.9"/><ellipse cx="367.41" cy="388.01" rx="4.50" ry="2.50" fill="none" stroke="#2b3658" stroke-width="1"/></g>
<rect x="430.00" y="411.00" width="22.80" height="3.20" fill="#fff" stroke="none" stroke-width="1"/>
<defs>
<filter id="fnoise" x="0" y="0" width="100%" height="100%"><feTurbulence type="fractalNoise" baseFrequency="0.7 0.12" numOctaves="2" seed="3"/><feColorMatrix type="matrix" values="0 0 0 0 0.5  0 0 0 0 0.5  0 0 0 0 0.5  0 0 0 1.2 -0.4"/></filter>
<filter id="fblur" x="-5%" y="-5%" width="110%" height="110%"><feGaussianBlur stdDeviation="0.7"/></filter>
</defs>
<text x="469.00" y="271.50" font-size="13" text-anchor="start" fill="#111" stroke="#111" stroke-width="0.28" font-weight="bold">f</text>
<clipPath id="fclip0"><rect x="465.5" y="273.7" width="135.8" height="70.4"/></clipPath>
<g clip-path="url(#fclip0)"><rect x="465.50" y="273.70" width="135.80" height="70.40" fill="#7a7a7a" stroke="none" stroke-width="1"/><g filter="url(#fblur)"><path d="M465.0 348.0 L466.4 285.0 L472.0 280.4 L588.0 280.4 L593.6 285.0 L601.2 348.0Z" fill="#878787" stroke="#aeaaaa" stroke-width="1.5" stroke-linejoin="round"/><path d="M480.0 348.0 L487.0 296.0 L578.0 296.0 L589.0 348.0Z" fill="#7a7a7a" stroke="#6e6e6e" stroke-width="1.0"/><path d="M472.0 280.4 L588.0 280.4 L593.6 285.0 L601.2 348.0" fill="none" stroke="#c6c0c0" stroke-width="1.4" stroke-linejoin="round"/><path d="M558.0 298.0L576.0 298.0L586.0 348.0L559.0 348.0Z" fill="#888888" stroke="none" stroke-width="1"/></g><rect x="465.50" y="273.70" width="135.80" height="70.40" fill="#888" stroke="none" stroke-width="1" filter="url(#fnoise)" opacity="0.4"/></g>
<clipPath id="fclip1"><rect x="608.7" y="273.7" width="136.6" height="70.4"/></clipPath>
<g clip-path="url(#fclip1)"><rect x="608.70" y="273.70" width="136.60" height="70.40" fill="#7a7a7a" stroke="none" stroke-width="1"/><g filter="url(#fblur)"><path d="M610.0 348.0 L619.0 282.0 L624.0 279.6 L731.0 279.6 L737.0 283.6 L745.0 348.0Z" fill="#878787" stroke="#aeaaaa" stroke-width="1.5" stroke-linejoin="round"/><path d="M625.0 348.0 L634.0 296.0 L720.0 296.0 L731.0 348.0Z" fill="#7a7a7a" stroke="#6e6e6e" stroke-width="1.0"/><path d="M624.0 279.6 L731.0 279.6 L737.0 283.6 L745.0 348.0" fill="none" stroke="#c6c0c0" stroke-width="1.4" stroke-linejoin="round"/><path d="M700.0 298.0L718.0 298.0L728.0 348.0L701.0 348.0Z" fill="#888888" stroke="none" stroke-width="1"/></g><rect x="608.70" y="273.70" width="136.60" height="70.40" fill="#888" stroke="none" stroke-width="1" filter="url(#fnoise)" opacity="0.4"/></g>
<clipPath id="fclip2"><rect x="465.5" y="352.7" width="135.8" height="70.9"/></clipPath>
<g clip-path="url(#fclip2)"><rect x="465.50" y="352.70" width="135.80" height="70.90" fill="#7a7a7a" stroke="none" stroke-width="1"/><g filter="url(#fblur)"><path d="M464.0 428.0 L465.6 362.0 L470.0 358.4 L588.0 358.4 L593.2 362.4 L601.2 428.0Z" fill="#878787" stroke="#aeaaaa" stroke-width="1.5" stroke-linejoin="round"/><path d="M479.0 428.0 L488.0 376.0 L578.0 376.0 L591.0 428.0Z" fill="#7a7a7a" stroke="#6e6e6e" stroke-width="1.0"/><path d="M470.0 358.4 L588.0 358.4 L593.2 362.4 L601.2 428.0" fill="none" stroke="#c6c0c0" stroke-width="1.4" stroke-linejoin="round"/><path d="M558.0 378.0L576.0 378.0L588.0 428.0L561.0 428.0Z" fill="#888888" stroke="none" stroke-width="1"/></g><rect x="465.50" y="352.70" width="135.80" height="70.90" fill="#888" stroke="none" stroke-width="1" filter="url(#fnoise)" opacity="0.4"/></g>
<clipPath id="fclip3"><rect x="608.7" y="352.7" width="136.6" height="70.9"/></clipPath>
<g clip-path="url(#fclip3)"><rect x="608.70" y="352.70" width="136.60" height="70.90" fill="#7a7a7a" stroke="none" stroke-width="1"/><g filter="url(#fblur)"><path d="M609.0 428.0 L618.4 361.6 L623.0 358.4 L730.0 358.4 L735.2 362.4 L745.0 428.0Z" fill="#878787" stroke="#aeaaaa" stroke-width="1.5" stroke-linejoin="round"/><path d="M625.0 428.0 L634.0 376.0 L720.0 376.0 L733.0 428.0Z" fill="#7a7a7a" stroke="#6e6e6e" stroke-width="1.0"/><path d="M623.0 358.4 L730.0 358.4 L735.2 362.4 L745.0 428.0" fill="none" stroke="#c6c0c0" stroke-width="1.4" stroke-linejoin="round"/><path d="M700.0 378.0L718.0 378.0L730.0 428.0L703.0 428.0Z" fill="#888888" stroke="none" stroke-width="1"/></g><rect x="608.70" y="352.70" width="136.60" height="70.90" fill="#888" stroke="none" stroke-width="1" filter="url(#fnoise)" opacity="0.4"/></g>
<circle cx="674.00" cy="283.00" r="1.60" fill="#9a9a9a" stroke="#5e5e5e" stroke-width="0.8" opacity="0.85"/><circle cx="666.00" cy="292.00" r="1.50" fill="#9a9a9a" stroke="#5e5e5e" stroke-width="0.8" opacity="0.85"/><circle cx="692.00" cy="292.00" r="1.50" fill="#9a9a9a" stroke="#5e5e5e" stroke-width="0.8" opacity="0.85"/><circle cx="706.00" cy="292.40" r="1.40" fill="#9a9a9a" stroke="#5e5e5e" stroke-width="0.8" opacity="0.85"/><rect x="728.00" y="283.00" width="11.00" height="8.00" fill="#5e5e5e" stroke="#151515" stroke-width="0.9" fill-opacity="0.45"/>
<circle cx="521.00" cy="370.40" r="2.30" fill="#9a9a9a" stroke="#5e5e5e" stroke-width="0.8" opacity="0.85"/><circle cx="526.50" cy="370.40" r="2.30" fill="#9a9a9a" stroke="#5e5e5e" stroke-width="0.8" opacity="0.85"/><circle cx="582.40" cy="383.60" r="2.10" fill="#9a9a9a" stroke="#5e5e5e" stroke-width="0.8" opacity="0.85"/><circle cx="500.00" cy="362.00" r="1.50" fill="#9a9a9a" stroke="#5e5e5e" stroke-width="0.8" opacity="0.85"/><circle cx="538.00" cy="371.00" r="1.30" fill="#9a9a9a" stroke="#5e5e5e" stroke-width="0.8" opacity="0.85"/><rect x="472.00" y="360.40" width="12.00" height="8.60" fill="#5e5e5e" stroke="#151515" stroke-width="0.9" fill-opacity="0.45"/><rect x="551.00" y="365.00" width="12.60" height="9.00" fill="#5e5e5e" stroke="#151515" stroke-width="0.9" fill-opacity="0.45"/><rect x="582.00" y="365.00" width="11.60" height="8.60" fill="#5e5e5e" stroke="#151515" stroke-width="0.9" fill-opacity="0.45"/>
<circle cx="650.00" cy="371.00" r="2.30" fill="#9a9a9a" stroke="#5e5e5e" stroke-width="0.8" opacity="0.85"/><circle cx="664.00" cy="370.40" r="2.30" fill="#9a9a9a" stroke="#5e5e5e" stroke-width="0.8" opacity="0.85"/><circle cx="633.00" cy="362.50" r="1.30" fill="#9a9a9a" stroke="#5e5e5e" stroke-width="0.8" opacity="0.85"/><circle cx="683.00" cy="363.00" r="1.30" fill="#9a9a9a" stroke="#5e5e5e" stroke-width="0.8" opacity="0.85"/><rect x="692.00" y="365.40" width="11.60" height="8.60" fill="#5e5e5e" stroke="#151515" stroke-width="0.9" fill-opacity="0.45"/><rect x="721.00" y="359.60" width="11.40" height="8.40" fill="#5e5e5e" stroke="#151515" stroke-width="0.9" fill-opacity="0.45"/><rect x="730.00" y="402.00" width="12.00" height="8.40" fill="#5e5e5e" stroke="#151515" stroke-width="0.9" fill-opacity="0.45"/>
<rect x="465.50" y="273.70" width="135.80" height="70.40" fill="none" stroke="#1a1a1a" stroke-width="1.4"/>
<rect x="608.70" y="273.70" width="136.60" height="70.40" fill="none" stroke="#1a1a1a" stroke-width="1.4"/>
<rect x="465.50" y="352.70" width="135.80" height="70.90" fill="none" stroke="#1a1a1a" stroke-width="1.4"/>
<rect x="608.70" y="352.70" width="136.60" height="70.90" fill="none" stroke="#1a1a1a" stroke-width="1.4"/>
<text x="494.00" y="340.20" font-size="10.4" text-anchor="start" fill="#fff" stroke="#fff" stroke-width="0.28" font-weight="bold">No cavitation</text>
<text x="630.00" y="340.20" font-size="10.4" text-anchor="start" fill="#fff" stroke="#fff" stroke-width="0.28" font-weight="bold">V<tspan font-size="6.4" dy="1.9">PP</tspan><tspan dy="-1.9"> = 100 V</tspan></text>
<text x="490.00" y="419.30" font-size="10.4" text-anchor="start" fill="#fff" stroke="#fff" stroke-width="0.28" font-weight="bold">V<tspan font-size="6.4" dy="1.9">PP</tspan><tspan dy="-1.9"> = 200 V</tspan></text>
<text x="632.00" y="419.30" font-size="10.4" text-anchor="start" fill="#fff" stroke="#fff" stroke-width="0.28" font-weight="bold">V<tspan font-size="6.4" dy="1.9">PP</tspan><tspan dy="-1.9"> = 300 V</tspan></text>
<rect x="578.20" y="336.90" width="19.00" height="2.40" fill="#fff" stroke="none" stroke-width="1"/>
<rect x="720.50" y="336.90" width="19.00" height="2.40" fill="#fff" stroke="none" stroke-width="1"/>
<rect x="579.00" y="416.50" width="19.00" height="2.40" fill="#fff" stroke="none" stroke-width="1"/>
<rect x="720.70" y="416.50" width="19.00" height="2.40" fill="#fff" stroke="none" stroke-width="1"/>
<text x="6.00" y="466.00" font-size="13" text-anchor="start" fill="#111" stroke="#111" stroke-width="0.28" font-weight="bold">g</text>
<rect x="39.60" y="474.90" width="151.20" height="120.80" fill="none" stroke="#2a2a2a" stroke-width="1.1"/>
<text x="117.80" y="466.40" font-size="10.4" text-anchor="middle" fill="#111" stroke="#111" stroke-width="0.28" font-weight="bold">FRR = 3</text>
<line x1="36.60" y1="595.70" x2="39.60" y2="595.70" stroke="#2a2a2a" stroke-width="1"/>
<text x="36.00" y="598.90" font-size="8.9" text-anchor="end" fill="#111" stroke="#111" stroke-width="0.28" font-weight="bold">0</text>
<line x1="36.60" y1="565.50" x2="39.60" y2="565.50" stroke="#2a2a2a" stroke-width="1"/>
<text x="36.00" y="568.70" font-size="8.9" text-anchor="end" fill="#111" stroke="#111" stroke-width="0.28" font-weight="bold">50</text>
<line x1="36.60" y1="535.30" x2="39.60" y2="535.30" stroke="#2a2a2a" stroke-width="1"/>
<text x="36.00" y="538.50" font-size="8.9" text-anchor="end" fill="#111" stroke="#111" stroke-width="0.28" font-weight="bold">100</text>
<line x1="36.60" y1="505.10" x2="39.60" y2="505.10" stroke="#2a2a2a" stroke-width="1"/>
<text x="36.00" y="508.30" font-size="8.9" text-anchor="end" fill="#111" stroke="#111" stroke-width="0.28" font-weight="bold">150</text>
<line x1="36.60" y1="474.90" x2="39.60" y2="474.90" stroke="#2a2a2a" stroke-width="1"/>
<text x="36.00" y="478.10" font-size="8.9" text-anchor="end" fill="#111" stroke="#111" stroke-width="0.28" font-weight="bold">200</text>
<text x="18.50" y="535.30" font-size="8.9" text-anchor="middle" fill="#111" stroke="#111" stroke-width="0.28" font-weight="bold" transform="rotate(-90 18.50 535.30)">Size (nm)</text>
<rect x="48.55" y="503.89" width="21.30" height="91.81" fill="#fff" stroke="#1c1c1c" stroke-width="1.3"/>
<line x1="55.40" y1="503.09" x2="63.00" y2="503.09" stroke="#1c1c1c" stroke-width="1.0"/>
<circle cx="58.00" cy="504.19" r="1.70" fill="#fff" stroke="#1c1c1c" stroke-width="0.9" fill-opacity="0.6"/><circle cx="60.40" cy="503.59" r="1.70" fill="#fff" stroke="#1c1c1c" stroke-width="0.9" fill-opacity="0.6"/>
<line x1="59.20" y1="595.70" x2="59.20" y2="598.70" stroke="#2a2a2a" stroke-width="1"/>
<text x="71.00" y="601.80" font-size="9.1" text-anchor="end" fill="#111" stroke="#111" stroke-width="0.28" font-weight="bold" transform="rotate(-45 71.00 601.80)">No cavitation</text>
<rect x="86.05" y="524.43" width="21.30" height="71.27" fill="#fff" stroke="#d8423c" stroke-width="1.3"/>
<line x1="92.90" y1="523.63" x2="100.50" y2="523.63" stroke="#d8423c" stroke-width="1.0"/>
<circle cx="95.50" cy="524.13" r="1.70" fill="#fff" stroke="#d8423c" stroke-width="0.9" fill-opacity="0.6"/><circle cx="99.30" cy="525.03" r="1.70" fill="#fff" stroke="#d8423c" stroke-width="0.9" fill-opacity="0.6"/>
<line x1="96.70" y1="595.70" x2="96.70" y2="598.70" stroke="#2a2a2a" stroke-width="1"/>
<text x="108.50" y="601.80" font-size="9.1" text-anchor="end" fill="#111" stroke="#111" stroke-width="0.28" font-weight="bold" transform="rotate(-45 108.50 601.80)">V<tspan font-size="5.6" dy="1.6">PP</tspan><tspan dy="-1.6"> = 100 V</tspan></text>
<rect x="123.55" y="536.21" width="21.30" height="59.49" fill="#fff" stroke="#3b7cba" stroke-width="1.3"/>
<line x1="134.20" y1="532.88" x2="134.20" y2="536.21" stroke="#3b7cba" stroke-width="1.1"/>
<line x1="130.40" y1="532.88" x2="138.00" y2="532.88" stroke="#3b7cba" stroke-width="1.1"/>
<circle cx="133.60" cy="533.73" r="1.70" fill="#fff" stroke="#3b7cba" stroke-width="0.9" fill-opacity="0.6"/><circle cx="132.60" cy="538.32" r="1.70" fill="#fff" stroke="#3b7cba" stroke-width="0.9" fill-opacity="0.6"/>
<line x1="134.20" y1="595.70" x2="134.20" y2="598.70" stroke="#2a2a2a" stroke-width="1"/>
<text x="146.00" y="601.80" font-size="9.1" text-anchor="end" fill="#111" stroke="#111" stroke-width="0.28" font-weight="bold" transform="rotate(-45 146.00 601.80)">V<tspan font-size="5.6" dy="1.6">PP</tspan><tspan dy="-1.6"> = 200 V</tspan></text>
<rect x="161.25" y="539.53" width="21.30" height="56.17" fill="#fff" stroke="#8f8f8f" stroke-width="1.3"/>
<line x1="168.10" y1="538.73" x2="175.70" y2="538.73" stroke="#8f8f8f" stroke-width="1.0"/>
<circle cx="170.30" cy="539.53" r="1.70" fill="#fff" stroke="#8f8f8f" stroke-width="0.9" fill-opacity="0.6"/><circle cx="174.30" cy="539.95" r="1.70" fill="#fff" stroke="#8f8f8f" stroke-width="0.9" fill-opacity="0.6"/>
<line x1="171.90" y1="595.70" x2="171.90" y2="598.70" stroke="#2a2a2a" stroke-width="1"/>
<text x="183.70" y="601.80" font-size="9.1" text-anchor="end" fill="#111" stroke="#111" stroke-width="0.28" font-weight="bold" transform="rotate(-45 183.70 601.80)">V<tspan font-size="5.6" dy="1.6">PP</tspan><tspan dy="-1.6"> = 300 V</tspan></text>
<line x1="59.20" y1="483.00" x2="59.20" y2="501.70" stroke="#333" stroke-width="0.7" stroke-dasharray="1.2 1.2"/>
<path d="M59.2 498.7H96.7V522.0" fill="none" stroke="#555" stroke-width="0.7"/>
<text x="59.00" y="497.10" font-size="5.0" text-anchor="start" fill="#222" stroke="#222" stroke-width="0.18" font-weight="bold"><tspan font-style="italic">P</tspan> &lt; 0.0001</text>
<text x="92.00" y="498.40" font-size="6.5" text-anchor="start" fill="#222" stroke="#222" stroke-width="0.18" font-weight="bold">***</text>
<path d="M59.2 490.0H134.2V531.0" fill="none" stroke="#555" stroke-width="0.7"/>
<text x="81.00" y="488.40" font-size="5.0" text-anchor="start" fill="#222" stroke="#222" stroke-width="0.18" font-weight="bold"><tspan font-style="italic">P</tspan> &lt; 0.0001</text>
<text x="108.00" y="489.70" font-size="6.5" text-anchor="start" fill="#222" stroke="#222" stroke-width="0.18" font-weight="bold">***</text>
<path d="M59.2 483.0H171.9V537.0" fill="none" stroke="#555" stroke-width="0.7"/>
<text x="91.00" y="481.40" font-size="5.0" text-anchor="start" fill="#222" stroke="#222" stroke-width="0.18" font-weight="bold"><tspan font-style="italic">P</tspan> &lt; 0.0001</text>
<text x="122.00" y="482.70" font-size="6.5" text-anchor="start" fill="#222" stroke="#222" stroke-width="0.18" font-weight="bold">***</text>
<rect x="222.70" y="474.90" width="150.60" height="120.80" fill="none" stroke="#2a2a2a" stroke-width="1.1"/>
<text x="301.30" y="466.40" font-size="10.4" text-anchor="middle" fill="#111" stroke="#111" stroke-width="0.28" font-weight="bold">FRR = 4</text>
<line x1="219.70" y1="595.70" x2="222.70" y2="595.70" stroke="#2a2a2a" stroke-width="1"/>
<text x="220.00" y="598.90" font-size="8.9" text-anchor="end" fill="#111" stroke="#111" stroke-width="0.28" font-weight="bold">0</text>
<line x1="219.70" y1="565.50" x2="222.70" y2="565.50" stroke="#2a2a2a" stroke-width="1"/>
<text x="220.00" y="568.70" font-size="8.9" text-anchor="end" fill="#111" stroke="#111" stroke-width="0.28" font-weight="bold">50</text>
<line x1="219.70" y1="535.30" x2="222.70" y2="535.30" stroke="#2a2a2a" stroke-width="1"/>
<text x="220.00" y="538.50" font-size="8.9" text-anchor="end" fill="#111" stroke="#111" stroke-width="0.28" font-weight="bold">100</text>
<line x1="219.70" y1="505.10" x2="222.70" y2="505.10" stroke="#2a2a2a" stroke-width="1"/>
<text x="220.00" y="508.30" font-size="8.9" text-anchor="end" fill="#111" stroke="#111" stroke-width="0.28" font-weight="bold">150</text>
<line x1="219.70" y1="474.90" x2="222.70" y2="474.90" stroke="#2a2a2a" stroke-width="1"/>
<text x="220.00" y="478.10" font-size="8.9" text-anchor="end" fill="#111" stroke="#111" stroke-width="0.28" font-weight="bold">200</text>
<text x="201.50" y="535.30" font-size="8.9" text-anchor="middle" fill="#111" stroke="#111" stroke-width="0.28" font-weight="bold" transform="rotate(-90 201.50 535.30)">Size (nm)</text>
<rect x="231.95" y="505.10" width="20.90" height="90.60" fill="#fff" stroke="#1c1c1c" stroke-width="1.3"/>
<line x1="242.40" y1="502.68" x2="242.40" y2="505.10" stroke="#1c1c1c" stroke-width="1.1"/>
<line x1="238.60" y1="502.68" x2="246.20" y2="502.68" stroke="#1c1c1c" stroke-width="1.1"/>
<circle cx="240.60" cy="502.99" r="1.70" fill="#fff" stroke="#1c1c1c" stroke-width="0.9" fill-opacity="0.6"/><circle cx="240.60" cy="508.12" r="1.70" fill="#fff" stroke="#1c1c1c" stroke-width="0.9" fill-opacity="0.6"/>
<line x1="242.40" y1="595.70" x2="242.40" y2="598.70" stroke="#2a2a2a" stroke-width="1"/>
<text x="254.20" y="601.80" font-size="9.1" text-anchor="end" fill="#111" stroke="#111" stroke-width="0.28" font-weight="bold" transform="rotate(-45 254.20 601.80)">No cavitation</text>
<rect x="269.25" y="527.15" width="20.90" height="68.55" fill="#fff" stroke="#d8423c" stroke-width="1.3"/>
<line x1="279.70" y1="518.03" x2="279.70" y2="527.15" stroke="#d8423c" stroke-width="1.1"/>
<line x1="275.90" y1="518.03" x2="283.50" y2="518.03" stroke="#d8423c" stroke-width="1.1"/>
<circle cx="281.40" cy="518.03" r="1.70" fill="#fff" stroke="#d8423c" stroke-width="0.9" fill-opacity="0.6"/><circle cx="276.60" cy="529.38" r="1.70" fill="#fff" stroke="#d8423c" stroke-width="0.9" fill-opacity="0.6"/><circle cx="282.00" cy="534.39" r="1.70" fill="#fff" stroke="#d8423c" stroke-width="0.9" fill-opacity="0.6"/>
<line x1="279.70" y1="595.70" x2="279.70" y2="598.70" stroke="#2a2a2a" stroke-width="1"/>
<text x="291.50" y="601.80" font-size="9.1" text-anchor="end" fill="#111" stroke="#111" stroke-width="0.28" font-weight="bold" transform="rotate(-45 291.50 601.80)">V<tspan font-size="5.6" dy="1.6">PP</tspan><tspan dy="-1.6"> = 100 V</tspan></text>
<rect x="306.55" y="541.04" width="20.90" height="54.66" fill="#fff" stroke="#3b7cba" stroke-width="1.3"/>
<line x1="317.00" y1="537.41" x2="317.00" y2="541.04" stroke="#3b7cba" stroke-width="1.1"/>
<line x1="313.20" y1="537.41" x2="320.80" y2="537.41" stroke="#3b7cba" stroke-width="1.1"/>
<circle cx="317.00" cy="537.72" r="1.70" fill="#fff" stroke="#3b7cba" stroke-width="0.9" fill-opacity="0.6"/><circle cx="314.60" cy="545.57" r="1.70" fill="#fff" stroke="#3b7cba" stroke-width="0.9" fill-opacity="0.6"/>
<line x1="317.00" y1="595.70" x2="317.00" y2="598.70" stroke="#2a2a2a" stroke-width="1"/>
<text x="328.80" y="601.80" font-size="9.1" text-anchor="end" fill="#111" stroke="#111" stroke-width="0.28" font-weight="bold" transform="rotate(-45 328.80 601.80)">V<tspan font-size="5.6" dy="1.6">PP</tspan><tspan dy="-1.6"> = 200 V</tspan></text>
<rect x="344.15" y="555.84" width="20.90" height="39.86" fill="#fff" stroke="#8f8f8f" stroke-width="1.3"/>
<line x1="350.80" y1="555.04" x2="358.40" y2="555.04" stroke="#8f8f8f" stroke-width="1.0"/>
<circle cx="351.40" cy="555.59" r="1.70" fill="#fff" stroke="#8f8f8f" stroke-width="0.9" fill-opacity="0.6"/><circle cx="356.00" cy="556.44" r="1.70" fill="#fff" stroke="#8f8f8f" stroke-width="0.9" fill-opacity="0.6"/>
<line x1="354.60" y1="595.70" x2="354.60" y2="598.70" stroke="#2a2a2a" stroke-width="1"/>
<text x="366.40" y="601.80" font-size="9.1" text-anchor="end" fill="#111" stroke="#111" stroke-width="0.28" font-weight="bold" transform="rotate(-45 366.40 601.80)">V<tspan font-size="5.6" dy="1.6">PP</tspan><tspan dy="-1.6"> = 300 V</tspan></text>
<line x1="242.40" y1="478.30" x2="242.40" y2="500.50" stroke="#333" stroke-width="0.7" stroke-dasharray="1.2 1.2"/>
<path d="M242.4 497.5H279.7V515.0" fill="none" stroke="#555" stroke-width="0.7"/>
<text x="244.50" y="495.90" font-size="5.0" text-anchor="start" fill="#222" stroke="#222" stroke-width="0.18" font-weight="bold"><tspan font-style="italic">P</tspan> = 0.0028 <tspan font-size="6.5" dy="1.2">**</tspan></text>
<path d="M242.4 489.0H317.0V535.0" fill="none" stroke="#555" stroke-width="0.7"/>
<text x="260.50" y="487.40" font-size="5.0" text-anchor="start" fill="#222" stroke="#222" stroke-width="0.18" font-weight="bold"><tspan font-style="italic">P</tspan> &lt; 0.0001</text>
<text x="294.00" y="488.70" font-size="6.5" text-anchor="start" fill="#222" stroke="#222" stroke-width="0.18" font-weight="bold">***</text>
<path d="M242.4 478.3H354.6V553.0" fill="none" stroke="#555" stroke-width="0.7"/>
<text x="320.50" y="482.60" font-size="5.0" text-anchor="start" fill="#222" stroke="#222" stroke-width="0.18" font-weight="bold"><tspan font-style="italic">P</tspan> &lt; 0.0001</text>
<text x="328.50" y="488.50" font-size="6.5" text-anchor="start" fill="#222" stroke="#222" stroke-width="0.18" font-weight="bold">***</text>
<rect x="405.50" y="475.70" width="150.40" height="119.40" fill="none" stroke="#2a2a2a" stroke-width="1.1"/>
<text x="484.70" y="466.40" font-size="10.4" text-anchor="middle" fill="#111" stroke="#111" stroke-width="0.28" font-weight="bold">FRR = 5</text>
<line x1="402.50" y1="595.10" x2="405.50" y2="595.10" stroke="#2a2a2a" stroke-width="1"/>
<text x="402.50" y="598.30" font-size="8.9" text-anchor="end" fill="#111" stroke="#111" stroke-width="0.28" font-weight="bold">0</text>
<line x1="402.50" y1="565.25" x2="405.50" y2="565.25" stroke="#2a2a2a" stroke-width="1"/>
<text x="402.50" y="568.45" font-size="8.9" text-anchor="end" fill="#111" stroke="#111" stroke-width="0.28" font-weight="bold">50</text>
<line x1="402.50" y1="535.40" x2="405.50" y2="535.40" stroke="#2a2a2a" stroke-width="1"/>
<text x="402.50" y="538.60" font-size="8.9" text-anchor="end" fill="#111" stroke="#111" stroke-width="0.28" font-weight="bold">100</text>
<line x1="402.50" y1="505.55" x2="405.50" y2="505.55" stroke="#2a2a2a" stroke-width="1"/>
<text x="402.50" y="508.75" font-size="8.9" text-anchor="end" fill="#111" stroke="#111" stroke-width="0.28" font-weight="bold">150</text>
<line x1="402.50" y1="475.70" x2="405.50" y2="475.70" stroke="#2a2a2a" stroke-width="1"/>
<text x="402.50" y="478.90" font-size="8.9" text-anchor="end" fill="#111" stroke="#111" stroke-width="0.28" font-weight="bold">200</text>
<text x="384.00" y="535.40" font-size="8.9" text-anchor="middle" fill="#111" stroke="#111" stroke-width="0.28" font-weight="bold" transform="rotate(-90 384.00 535.40)">Size (nm)</text>
<rect x="414.40" y="515.10" width="21.00" height="80.00" fill="#fff" stroke="#1c1c1c" stroke-width="1.3"/>
<line x1="424.90" y1="511.70" x2="424.90" y2="515.10" stroke="#1c1c1c" stroke-width="1.1"/>
<line x1="421.10" y1="511.70" x2="428.70" y2="511.70" stroke="#1c1c1c" stroke-width="1.1"/>
<circle cx="423.30" cy="513.91" r="1.70" fill="#fff" stroke="#1c1c1c" stroke-width="0.9" fill-opacity="0.6"/><circle cx="422.50" cy="520.18" r="1.70" fill="#fff" stroke="#1c1c1c" stroke-width="0.9" fill-opacity="0.6"/>
<line x1="424.90" y1="595.10" x2="424.90" y2="598.10" stroke="#2a2a2a" stroke-width="1"/>
<text x="436.70" y="601.20" font-size="9.1" text-anchor="end" fill="#111" stroke="#111" stroke-width="0.28" font-weight="bold" transform="rotate(-45 436.70 601.20)">No cavitation</text>
<rect x="451.50" y="522.86" width="21.00" height="72.24" fill="#fff" stroke="#d8423c" stroke-width="1.3"/>
<line x1="462.00" y1="520.48" x2="462.00" y2="522.86" stroke="#d8423c" stroke-width="1.1"/>
<line x1="458.20" y1="520.48" x2="465.80" y2="520.48" stroke="#d8423c" stroke-width="1.1"/>
<circle cx="463.30" cy="522.27" r="1.70" fill="#fff" stroke="#d8423c" stroke-width="0.9" fill-opacity="0.6"/><circle cx="458.80" cy="525.85" r="1.70" fill="#fff" stroke="#d8423c" stroke-width="0.9" fill-opacity="0.6"/>
<line x1="462.00" y1="595.10" x2="462.00" y2="598.10" stroke="#2a2a2a" stroke-width="1"/>
<text x="473.80" y="601.20" font-size="9.1" text-anchor="end" fill="#111" stroke="#111" stroke-width="0.28" font-weight="bold" transform="rotate(-45 473.80 601.20)">V<tspan font-size="5.6" dy="1.6">PP</tspan><tspan dy="-1.6"> = 100 V</tspan></text>
<rect x="488.60" y="556.29" width="21.00" height="38.81" fill="#fff" stroke="#3b7cba" stroke-width="1.3"/>
<line x1="499.10" y1="552.12" x2="499.10" y2="556.29" stroke="#3b7cba" stroke-width="1.1"/>
<line x1="495.30" y1="552.12" x2="502.90" y2="552.12" stroke="#3b7cba" stroke-width="1.1"/>
<circle cx="497.50" cy="552.71" r="1.70" fill="#fff" stroke="#3b7cba" stroke-width="0.9" fill-opacity="0.6"/><circle cx="499.10" cy="559.28" r="1.70" fill="#fff" stroke="#3b7cba" stroke-width="0.9" fill-opacity="0.6"/>
<line x1="499.10" y1="595.10" x2="499.10" y2="598.10" stroke="#2a2a2a" stroke-width="1"/>
<text x="510.90" y="601.20" font-size="9.1" text-anchor="end" fill="#111" stroke="#111" stroke-width="0.28" font-weight="bold" transform="rotate(-45 510.90 601.20)">V<tspan font-size="5.6" dy="1.6">PP</tspan><tspan dy="-1.6"> = 200 V</tspan></text>
<rect x="525.70" y="559.58" width="21.00" height="35.52" fill="#fff" stroke="#8f8f8f" stroke-width="1.3"/>
<line x1="532.40" y1="558.78" x2="540.00" y2="558.78" stroke="#8f8f8f" stroke-width="1.0"/>
<circle cx="532.70" cy="558.98" r="1.70" fill="#fff" stroke="#8f8f8f" stroke-width="0.9" fill-opacity="0.6"/><circle cx="537.50" cy="559.58" r="1.70" fill="#fff" stroke="#8f8f8f" stroke-width="0.9" fill-opacity="0.6"/>
<line x1="536.20" y1="595.10" x2="536.20" y2="598.10" stroke="#2a2a2a" stroke-width="1"/>
<text x="548.00" y="601.20" font-size="9.1" text-anchor="end" fill="#111" stroke="#111" stroke-width="0.28" font-weight="bold" transform="rotate(-45 548.00 601.20)">V<tspan font-size="5.6" dy="1.6">PP</tspan><tspan dy="-1.6"> = 300 V</tspan></text>
<line x1="424.90" y1="487.70" x2="424.90" y2="512.00" stroke="#333" stroke-width="0.7" stroke-dasharray="1.2 1.2"/>
<path d="M424.9 509.0H462.0V519.0" fill="none" stroke="#555" stroke-width="0.7"/>
<text x="430.00" y="507.40" font-size="5.0" text-anchor="start" fill="#222" stroke="#222" stroke-width="0.18" font-weight="bold"><tspan font-style="italic">P</tspan> = 0.0827</text>
<path d="M424.9 498.3H499.1V550.0" fill="none" stroke="#555" stroke-width="0.7"/>
<text x="446.00" y="496.70" font-size="5.0" text-anchor="start" fill="#222" stroke="#222" stroke-width="0.18" font-weight="bold"><tspan font-style="italic">P</tspan> &lt; 0.0001</text>
<text x="475.00" y="498.00" font-size="6.5" text-anchor="start" fill="#222" stroke="#222" stroke-width="0.18" font-weight="bold">***</text>
<path d="M424.9 487.7H536.2V556.0" fill="none" stroke="#555" stroke-width="0.7"/>
<text x="456.00" y="486.10" font-size="5.0" text-anchor="start" fill="#222" stroke="#222" stroke-width="0.18" font-weight="bold"><tspan font-style="italic">P</tspan> &lt; 0.0001</text>
<text x="489.00" y="487.40" font-size="6.5" text-anchor="start" fill="#222" stroke="#222" stroke-width="0.18" font-weight="bold">***</text>
<text x="563.50" y="466.00" font-size="13" text-anchor="start" fill="#111" stroke="#111" stroke-width="0.28" font-weight="bold">h</text>
<text x="666.80" y="466.40" font-size="10.4" text-anchor="middle" fill="#111" stroke="#111" stroke-width="0.28" font-weight="bold">FRR = 4</text>
<clipPath id="hclip"><rect x="584.7" y="473.0" width="151.19999999999993" height="122.10000000000002"/></clipPath>
<g clip-path="url(#hclip)"><path d="M604.9 595.1 L605.9 595.1 L606.9 595.1 L607.9 595.1 L608.9 595.1 L609.9 595.0 L610.9 595.0 L611.9 594.8 L612.9 594.5 L613.9 594.0 L614.9 593.5 L616.0 592.7 L617.0 591.8 L618.0 590.6 L619.0 589.3 L620.0 587.9 L621.0 586.3 L622.0 584.6 L623.0 582.7 L624.0 580.8 L625.0 578.7 L626.0 576.7 L627.0 574.5 L628.0 572.4 L629.1 570.2 L630.1 568.0 L631.1 565.8 L632.1 563.7 L633.1 561.6 L634.1 559.5 L635.1 557.5 L636.1 555.5 L637.1 553.6 L638.1 551.7 L639.1 550.0 L640.1 548.3 L641.2 546.7 L642.2 545.1 L643.2 543.7 L644.2 542.3 L645.2 541.0 L646.2 539.8 L647.2 538.6 L648.2 537.6 L649.2 536.6 L650.2 535.7 L651.2 534.9 L652.2 534.1 L653.2 533.4 L654.3 532.8 L655.3 532.2 L656.3 531.7 L657.3 531.3 L658.3 530.9 L659.3 530.6 L660.3 530.3 L661.3 530.1 L662.3 530.0 L663.3 529.9 L664.3 529.8 L665.3 529.8 L666.4 529.8 L667.4 529.9 L668.4 530.0 L669.4 530.1 L670.4 530.3 L671.4 530.5 L672.4 530.7 L673.4 530.9 L674.4 531.2 L675.4 531.5 L676.4 531.9 L677.4 532.2 L678.4 532.6 L679.5 533.0 L680.5 533.4 L681.5 533.8 L682.5 534.3 L683.5 534.7 L684.5 535.2 L685.5 535.7 L686.5 536.2 L687.5 536.7 L688.5 537.2 L689.5 537.7 L690.5 538.3 L691.6 538.8 L692.6 539.4 L693.6 539.9 L694.6 540.5 L695.6 541.0 L696.6 541.6 L697.6 542.1 L698.6 542.7 L699.6 543.3 L700.6 543.8 L701.6 544.4 L702.6 545.0 L703.6 545.5 L704.7 546.1 L705.7 546.7 L706.7 547.3 L707.7 547.8 L708.7 548.4 L709.7 548.9 L710.7 549.5 L711.7 550.1 L712.7 550.6 L713.7 551.2 L714.7 551.7 L715.7 552.3 L716.8 552.8 L717.8 553.3 L718.8 553.9 L719.8 554.4 L720.8 554.9 L721.8 555.4 L722.8 556.0 L723.8 556.5 L724.8 557.0 L725.8 557.5 L726.8 558.0 L727.8 558.5 L728.8 558.9 L729.9 559.4 L730.9 559.9 L731.9 560.4 L732.9 560.8 L733.9 561.3 L734.9 561.8" fill="none" stroke="#1c1c1c" stroke-width="1.1"/><path d="M593.8 595.1 L594.8 595.1 L595.8 595.1 L596.8 595.0 L597.8 594.9 L598.8 594.5 L599.8 593.8 L600.8 592.8 L601.8 591.6 L602.8 590.0 L603.9 588.1 L604.9 586.0 L605.9 583.7 L606.9 581.3 L607.9 578.8 L608.9 576.3 L609.9 573.7 L610.9 571.1 L611.9 568.6 L612.9 566.1 L613.9 563.7 L614.9 561.4 L616.0 559.2 L617.0 557.1 L618.0 555.2 L619.0 553.3 L620.0 551.6 L621.0 550.0 L622.0 548.5 L623.0 547.2 L624.0 545.9 L625.0 544.8 L626.0 543.8 L627.0 542.9 L628.0 542.1 L629.1 541.4 L630.1 540.8 L631.1 540.3 L632.1 539.9 L633.1 539.6 L634.1 539.3 L635.1 539.1 L636.1 539.0 L637.1 538.9 L638.1 538.9 L639.1 539.0 L640.1 539.1 L641.2 539.3 L642.2 539.5 L643.2 539.7 L644.2 540.0 L645.2 540.3 L646.2 540.6 L647.2 541.0 L648.2 541.4 L649.2 541.8 L650.2 542.3 L651.2 542.8 L652.2 543.2 L653.2 543.7 L654.3 544.3 L655.3 544.8 L656.3 545.3 L657.3 545.9 L658.3 546.5 L659.3 547.0 L660.3 547.6 L661.3 548.2 L662.3 548.8 L663.3 549.4 L664.3 550.0 L665.3 550.5 L666.4 551.1 L667.4 551.7 L668.4 552.3 L669.4 552.9 L670.4 553.5 L671.4 554.1 L672.4 554.7 L673.4 555.3 L674.4 555.8 L675.4 556.4 L676.4 557.0 L677.4 557.6 L678.4 558.1 L679.5 558.7 L680.5 559.2 L681.5 559.8 L682.5 560.3 L683.5 560.8 L684.5 561.4 L685.5 561.9 L686.5 562.4 L687.5 562.9 L688.5 563.4 L689.5 563.9 L690.5 564.4 L691.6 564.9 L692.6 565.4 L693.6 565.8 L694.6 566.3 L695.6 566.8 L696.6 567.2 L697.6 567.7 L698.6 568.1 L699.6 568.5 L700.6 569.0 L701.6 569.4 L702.6 569.8 L703.6 570.2 L704.7 570.6 L705.7 571.0 L706.7 571.4 L707.7 571.8 L708.7 572.2 L709.7 572.5 L710.7 572.9 L711.7 573.3 L712.7 573.6 L713.7 574.0 L714.7 574.3 L715.7 574.6 L716.8 575.0 L717.8 575.3 L718.8 575.6 L719.8 575.9 L720.8 576.2 L721.8 576.5 L722.8 576.8 L723.8 577.1 L724.8 577.4 L725.8 577.7 L726.8 578.0 L727.8 578.3 L728.8 578.5 L729.9 578.8 L730.9 579.1 L731.9 579.3 L732.9 579.6 L733.9 579.8 L734.9 580.1" fill="none" stroke="#c9483f" stroke-width="1.1"/><path d="M593.8 595.1 L594.8 595.1 L595.8 595.1 L596.8 595.1 L597.8 595.1 L598.8 595.0 L599.8 594.8 L600.8 594.3 L601.8 593.6 L602.8 592.5 L603.9 591.0 L604.9 589.1 L605.9 586.8 L606.9 584.1 L607.9 581.1 L608.9 577.9 L609.9 574.6 L610.9 571.1 L611.9 567.6 L612.9 564.1 L613.9 560.7 L614.9 557.4 L616.0 554.2 L617.0 551.2 L618.0 548.4 L619.0 545.9 L620.0 543.5 L621.0 541.4 L622.0 539.5 L623.0 537.9 L624.0 536.5 L625.0 535.3 L626.0 534.3 L627.0 533.5 L628.0 532.9 L629.1 532.5 L630.1 532.3 L631.1 532.2 L632.1 532.3 L633.1 532.5 L634.1 532.8 L635.1 533.3 L636.1 533.8 L637.1 534.4 L638.1 535.2 L639.1 535.9 L640.1 536.8 L641.2 537.7 L642.2 538.7 L643.2 539.7 L644.2 540.7 L645.2 541.7 L646.2 542.8 L647.2 543.9 L648.2 545.0 L649.2 546.2 L650.2 547.3 L651.2 548.4 L652.2 549.5 L653.2 550.7 L654.3 551.8 L655.3 552.9 L656.3 554.0 L657.3 555.1 L658.3 556.1 L659.3 557.2 L660.3 558.2 L661.3 559.3 L662.3 560.3 L663.3 561.3 L664.3 562.2 L665.3 563.2 L666.4 564.1 L667.4 565.0 L668.4 565.9 L669.4 566.7 L670.4 567.6 L671.4 568.4 L672.4 569.2 L673.4 570.0 L674.4 570.7 L675.4 571.5 L676.4 572.2 L677.4 572.9 L678.4 573.6 L679.5 574.2 L680.5 574.9 L681.5 575.5 L682.5 576.1 L683.5 576.7 L684.5 577.3 L685.5 577.8 L686.5 578.4 L687.5 578.9 L688.5 579.4 L689.5 579.9 L690.5 580.3 L691.6 580.8 L692.6 581.2 L693.6 581.7 L694.6 582.1 L695.6 582.5 L696.6 582.9 L697.6 583.3 L698.6 583.6 L699.6 584.0 L700.6 584.4 L701.6 584.7 L702.6 585.0 L703.6 585.3 L704.7 585.6 L705.7 585.9 L706.7 586.2 L707.7 586.5 L708.7 586.8 L709.7 587.0 L710.7 587.3 L711.7 587.5 L712.7 587.7 L713.7 588.0 L714.7 588.2 L715.7 588.4 L716.8 588.6 L717.8 588.8 L718.8 589.0 L719.8 589.2 L720.8 589.4 L721.8 589.5 L722.8 589.7 L723.8 589.9 L724.8 590.0 L725.8 590.2 L726.8 590.3 L727.8 590.5 L728.8 590.6 L729.9 590.8 L730.9 590.9 L731.9 591.0 L732.9 591.1 L733.9 591.3 L734.9 591.4" fill="none" stroke="#3a7db4" stroke-width="1.1"/><path d="M592.3 595.1 L593.3 595.1 L594.3 595.1 L595.3 595.0 L596.3 594.5 L597.3 593.2 L598.3 590.9 L599.3 587.3 L600.3 582.7 L601.3 577.2 L602.3 571.0 L603.4 564.6 L604.4 558.2 L605.4 552.0 L606.4 546.2 L607.4 540.9 L608.4 536.2 L609.4 532.2 L610.4 528.9 L611.4 526.2 L612.4 524.1 L613.4 522.6 L614.4 521.7 L615.4 521.3 L616.5 521.3 L617.5 521.7 L618.5 522.4 L619.5 523.4 L620.5 524.6 L621.5 526.1 L622.5 527.7 L623.5 529.5 L624.5 531.3 L625.5 533.2 L626.5 535.2 L627.5 537.2 L628.6 539.3 L629.6 541.3 L630.6 543.3 L631.6 545.3 L632.6 547.3 L633.6 549.2 L634.6 551.1 L635.6 553.0 L636.6 554.8 L637.6 556.5 L638.6 558.2 L639.6 559.8 L640.6 561.4 L641.7 562.9 L642.7 564.4 L643.7 565.8 L644.7 567.1 L645.7 568.4 L646.7 569.6 L647.7 570.8 L648.7 572.0 L649.7 573.0 L650.7 574.1 L651.7 575.1 L652.7 576.0 L653.8 576.9 L654.8 577.7 L655.8 578.6 L656.8 579.3 L657.8 580.1 L658.8 580.8 L659.8 581.5 L660.8 582.1 L661.8 582.7 L662.8 583.3 L663.8 583.8 L664.8 584.4 L665.8 584.9 L666.9 585.4 L667.9 585.8 L668.9 586.2 L669.9 586.6 L670.9 587.0 L671.9 587.4 L672.9 587.8 L673.9 588.1 L674.9 588.4 L675.9 588.7 L676.9 589.0 L677.9 589.3 L679.0 589.6 L680.0 589.8 L681.0 590.1 L682.0 590.3 L683.0 590.5 L684.0 590.7 L685.0 590.9 L686.0 591.1 L687.0 591.3 L688.0 591.4 L689.0 591.6 L690.0 591.7 L691.0 591.9 L692.1 592.0 L693.1 592.2 L694.1 592.3 L695.1 592.4 L696.1 592.5 L697.1 592.6 L698.1 592.8 L699.1 592.9 L700.1 592.9 L701.1 593.0 L702.1 593.1 L703.1 593.2 L704.2 593.3 L705.2 593.4 L706.2 593.4 L707.2 593.5 L708.2 593.6 L709.2 593.6 L710.2 593.7 L711.2 593.8 L712.2 593.8 L713.2 593.9 L714.2 593.9 L715.2 594.0 L716.2 594.0 L717.3 594.1 L718.3 594.1 L719.3 594.1 L720.3 594.2 L721.3 594.2 L722.3 594.2 L723.3 594.3 L724.3 594.3 L725.3 594.3 L726.3 594.4 L727.3 594.4 L728.3 594.4 L729.4 594.5 L730.4 594.5 L731.4 594.5 L732.4 594.5 L733.4 594.6 L734.4 594.6 L735.4 594.6" fill="none" stroke="#8a8a8a" stroke-width="1.1"/></g>
<rect x="584.70" y="473.00" width="151.20" height="122.10" fill="none" stroke="#2a2a2a" stroke-width="1.1"/>
<line x1="581.70" y1="595.10" x2="584.70" y2="595.10" stroke="#2a2a2a" stroke-width="1"/>
<text x="581.50" y="598.20" font-size="8.6" text-anchor="end" fill="#111" stroke="#111" stroke-width="0.28" font-weight="bold">0</text>
<line x1="581.70" y1="564.58" x2="584.70" y2="564.58" stroke="#2a2a2a" stroke-width="1"/>
<text x="581.50" y="567.68" font-size="8.6" text-anchor="end" fill="#111" stroke="#111" stroke-width="0.28" font-weight="bold">5</text>
<line x1="581.70" y1="534.05" x2="584.70" y2="534.05" stroke="#2a2a2a" stroke-width="1"/>
<text x="581.50" y="537.15" font-size="8.6" text-anchor="end" fill="#111" stroke="#111" stroke-width="0.28" font-weight="bold">10</text>
<line x1="581.70" y1="503.52" x2="584.70" y2="503.52" stroke="#2a2a2a" stroke-width="1"/>
<text x="581.50" y="506.62" font-size="8.6" text-anchor="end" fill="#111" stroke="#111" stroke-width="0.28" font-weight="bold">15</text>
<line x1="581.70" y1="473.00" x2="584.70" y2="473.00" stroke="#2a2a2a" stroke-width="1"/>
<text x="581.50" y="476.10" font-size="8.6" text-anchor="end" fill="#111" stroke="#111" stroke-width="0.28" font-weight="bold">20</text>
<line x1="584.70" y1="595.10" x2="584.70" y2="598.10" stroke="#2a2a2a" stroke-width="1"/>
<text x="584.70" y="607.20" font-size="8.6" text-anchor="middle" fill="#111" stroke="#111" stroke-width="0.28" font-weight="bold">0</text>
<line x1="635.10" y1="595.10" x2="635.10" y2="598.10" stroke="#2a2a2a" stroke-width="1"/>
<text x="635.10" y="607.20" font-size="8.6" text-anchor="middle" fill="#111" stroke="#111" stroke-width="0.28" font-weight="bold">100</text>
<line x1="685.50" y1="595.10" x2="685.50" y2="598.10" stroke="#2a2a2a" stroke-width="1"/>
<text x="685.50" y="607.20" font-size="8.6" text-anchor="middle" fill="#111" stroke="#111" stroke-width="0.28" font-weight="bold">200</text>
<line x1="735.90" y1="595.10" x2="735.90" y2="598.10" stroke="#2a2a2a" stroke-width="1"/>
<text x="735.90" y="607.20" font-size="8.6" text-anchor="middle" fill="#111" stroke="#111" stroke-width="0.28" font-weight="bold">300</text>
<text x="660.00" y="621.30" font-size="8.8" text-anchor="middle" fill="#111" stroke="#111" stroke-width="0.28" font-weight="bold">Size (nm)</text>
<text x="567.20" y="534.00" font-size="8.8" text-anchor="middle" fill="#111" stroke="#111" stroke-width="0.28" font-weight="bold" transform="rotate(-90 567.20 534.00)">Intensity (%)</text>
<line x1="590.80" y1="478.00" x2="600.20" y2="478.00" stroke="#1c1c1c" stroke-width="1.2"/>
<text x="605.80" y="480.10" font-size="6.0" text-anchor="start" fill="#111" stroke="#111" stroke-width="0.18" font-weight="bold">No cavitation</text>
<line x1="590.80" y1="485.30" x2="600.20" y2="485.30" stroke="#c9483f" stroke-width="1.2"/>
<text x="605.80" y="487.40" font-size="6.0" text-anchor="start" fill="#111" stroke="#111" stroke-width="0.18" font-weight="bold">V<tspan font-size="3.7" dy="1.1">PP</tspan><tspan dy="-1.1"> = 100 V</tspan></text>
<line x1="590.80" y1="492.60" x2="600.20" y2="492.60" stroke="#3a7db4" stroke-width="1.2"/>
<text x="605.80" y="494.70" font-size="6.0" text-anchor="start" fill="#111" stroke="#111" stroke-width="0.18" font-weight="bold">V<tspan font-size="3.7" dy="1.1">PP</tspan><tspan dy="-1.1"> = 200 V</tspan></text>
<line x1="590.80" y1="500.10" x2="600.20" y2="500.10" stroke="#8a8a8a" stroke-width="1.2"/>
<text x="605.80" y="502.20" font-size="6.0" text-anchor="start" fill="#111" stroke="#111" stroke-width="0.18" font-weight="bold">V<tspan font-size="3.7" dy="1.1">PP</tspan><tspan dy="-1.1"> = 300 V</tspan></text>
<text x="9.00" y="652.20" font-size="13" text-anchor="start" fill="#111" stroke="#111" stroke-width="0.28" font-weight="bold">i</text>
<rect x="37.40" y="663.20" width="154.80" height="124.00" fill="none" stroke="#2a2a2a" stroke-width="1.1"/>
<line x1="34.40" y1="787.20" x2="37.40" y2="787.20" stroke="#2a2a2a" stroke-width="1"/>
<text x="33.30" y="790.30" font-size="8.8" text-anchor="end" fill="#111" stroke="#111" stroke-width="0.28" font-weight="bold">0</text>
<line x1="34.40" y1="762.40" x2="37.40" y2="762.40" stroke="#2a2a2a" stroke-width="1"/>
<text x="33.30" y="765.50" font-size="8.8" text-anchor="end" fill="#111" stroke="#111" stroke-width="0.28" font-weight="bold">0.1</text>
<line x1="34.40" y1="737.60" x2="37.40" y2="737.60" stroke="#2a2a2a" stroke-width="1"/>
<text x="33.30" y="740.70" font-size="8.8" text-anchor="end" fill="#111" stroke="#111" stroke-width="0.28" font-weight="bold">0.2</text>
<line x1="34.40" y1="712.80" x2="37.40" y2="712.80" stroke="#2a2a2a" stroke-width="1"/>
<text x="33.30" y="715.90" font-size="8.8" text-anchor="end" fill="#111" stroke="#111" stroke-width="0.28" font-weight="bold">0.3</text>
<line x1="34.40" y1="688.00" x2="37.40" y2="688.00" stroke="#2a2a2a" stroke-width="1"/>
<text x="33.30" y="691.10" font-size="8.8" text-anchor="end" fill="#111" stroke="#111" stroke-width="0.28" font-weight="bold">0.4</text>
<line x1="34.40" y1="663.20" x2="37.40" y2="663.20" stroke="#2a2a2a" stroke-width="1"/>
<text x="33.30" y="666.30" font-size="8.8" text-anchor="end" fill="#111" stroke="#111" stroke-width="0.28" font-weight="bold">0.5</text>
<text x="16.50" y="725.30" font-size="9.8" text-anchor="middle" fill="#111" stroke="#111" stroke-width="0.28" font-weight="bold" transform="rotate(-90 16.50 725.30)">PDI</text>
<rect x="46.70" y="719.99" width="13.80" height="67.21" fill="#fff" stroke="#1c1c1c" stroke-width="1.2"/>
<line x1="53.60" y1="715.28" x2="53.60" y2="724.70" stroke="#1c1c1c" stroke-width="1"/><line x1="50.20" y1="715.28" x2="57.00" y2="715.28" stroke="#1c1c1c" stroke-width="1"/><line x1="50.20" y1="724.70" x2="57.00" y2="724.70" stroke="#1c1c1c" stroke-width="1"/>
<circle cx="51.60" cy="721.88" r="1.00" fill="none" stroke="#1c1c1c" stroke-width="0.8"/><circle cx="55.60" cy="719.05" r="1.00" fill="none" stroke="#1c1c1c" stroke-width="0.8"/><circle cx="53.60" cy="716.22" r="1.00" fill="none" stroke="#1c1c1c" stroke-width="0.8"/>
<rect x="67.20" y="755.21" width="13.60" height="31.99" fill="#fff" stroke="#d8423c" stroke-width="1.2"/>
<line x1="74.00" y1="746.53" x2="74.00" y2="763.89" stroke="#d8423c" stroke-width="1"/><line x1="70.60" y1="746.53" x2="77.40" y2="746.53" stroke="#d8423c" stroke-width="1"/><line x1="70.60" y1="763.89" x2="77.40" y2="763.89" stroke="#d8423c" stroke-width="1"/>
<circle cx="72.00" cy="758.68" r="1.00" fill="none" stroke="#d8423c" stroke-width="0.8"/><circle cx="76.00" cy="753.47" r="1.00" fill="none" stroke="#d8423c" stroke-width="0.8"/><circle cx="74.00" cy="748.26" r="1.00" fill="none" stroke="#d8423c" stroke-width="0.8"/>
<rect x="98.70" y="704.86" width="13.30" height="82.34" fill="#fff" stroke="#1c1c1c" stroke-width="1.2"/>
<line x1="105.35" y1="693.70" x2="105.35" y2="716.02" stroke="#1c1c1c" stroke-width="1"/><line x1="101.95" y1="693.70" x2="108.75" y2="693.70" stroke="#1c1c1c" stroke-width="1"/><line x1="101.95" y1="716.02" x2="108.75" y2="716.02" stroke="#1c1c1c" stroke-width="1"/>
<circle cx="103.35" cy="709.33" r="1.00" fill="none" stroke="#1c1c1c" stroke-width="0.8"/><circle cx="107.35" cy="702.63" r="1.00" fill="none" stroke="#1c1c1c" stroke-width="0.8"/><circle cx="105.35" cy="695.94" r="1.00" fill="none" stroke="#1c1c1c" stroke-width="0.8"/>
<rect x="118.70" y="735.12" width="13.80" height="52.08" fill="#fff" stroke="#d8423c" stroke-width="1.2"/>
<line x1="125.60" y1="734.13" x2="125.60" y2="736.11" stroke="#d8423c" stroke-width="1"/><line x1="122.20" y1="734.13" x2="129.00" y2="734.13" stroke="#d8423c" stroke-width="1"/><line x1="122.20" y1="736.11" x2="129.00" y2="736.11" stroke="#d8423c" stroke-width="1"/>
<circle cx="123.60" cy="735.52" r="1.00" fill="none" stroke="#d8423c" stroke-width="0.8"/><circle cx="127.60" cy="734.92" r="1.00" fill="none" stroke="#d8423c" stroke-width="0.8"/><circle cx="125.60" cy="734.33" r="1.00" fill="none" stroke="#d8423c" stroke-width="0.8"/>
<rect x="149.90" y="714.04" width="13.60" height="73.16" fill="#fff" stroke="#1c1c1c" stroke-width="1.2"/>
<line x1="156.70" y1="705.11" x2="156.70" y2="722.97" stroke="#1c1c1c" stroke-width="1"/><line x1="153.30" y1="705.11" x2="160.10" y2="705.11" stroke="#1c1c1c" stroke-width="1"/><line x1="153.30" y1="722.97" x2="160.10" y2="722.97" stroke="#1c1c1c" stroke-width="1"/>
<circle cx="154.70" cy="717.61" r="1.00" fill="none" stroke="#1c1c1c" stroke-width="0.8"/><circle cx="158.70" cy="712.25" r="1.00" fill="none" stroke="#1c1c1c" stroke-width="0.8"/><circle cx="156.70" cy="706.90" r="1.00" fill="none" stroke="#1c1c1c" stroke-width="0.8"/>
<rect x="169.90" y="733.38" width="14.10" height="53.82" fill="#fff" stroke="#d8423c" stroke-width="1.2"/>
<line x1="176.95" y1="730.66" x2="176.95" y2="736.11" stroke="#d8423c" stroke-width="1"/><line x1="173.55" y1="730.66" x2="180.35" y2="730.66" stroke="#d8423c" stroke-width="1"/><line x1="173.55" y1="736.11" x2="180.35" y2="736.11" stroke="#d8423c" stroke-width="1"/>
<circle cx="174.95" cy="734.48" r="1.00" fill="none" stroke="#d8423c" stroke-width="0.8"/><circle cx="178.95" cy="732.84" r="1.00" fill="none" stroke="#d8423c" stroke-width="0.8"/><circle cx="176.95" cy="731.20" r="1.00" fill="none" stroke="#d8423c" stroke-width="0.8"/>
<line x1="63.20" y1="787.20" x2="63.20" y2="790.20" stroke="#2a2a2a" stroke-width="1"/>
<text x="63.20" y="802.00" font-size="9" text-anchor="middle" fill="#111" stroke="#111" stroke-width="0.28" font-weight="bold">3</text>
<line x1="115.20" y1="787.20" x2="115.20" y2="790.20" stroke="#2a2a2a" stroke-width="1"/>
<text x="115.20" y="802.00" font-size="9" text-anchor="middle" fill="#111" stroke="#111" stroke-width="0.28" font-weight="bold">4</text>
<line x1="166.10" y1="787.20" x2="166.10" y2="790.20" stroke="#2a2a2a" stroke-width="1"/>
<text x="166.10" y="802.00" font-size="9" text-anchor="middle" fill="#111" stroke="#111" stroke-width="0.28" font-weight="bold">5</text>
<text x="115.20" y="813.60" font-size="10.2" text-anchor="middle" fill="#111" stroke="#111" stroke-width="0.28" font-weight="bold">FRR</text>
<path d="M53.6 715V712H74.0V745" fill="none" stroke="#555" stroke-width="0.7"/>
<text x="48.00" y="709.60" font-size="4.8" text-anchor="start" fill="#222" stroke="#222" stroke-width="0.18" font-weight="bold"><tspan font-style="italic">P</tspan> = 0.0030 &#160;<tspan font-size="6.5" dy="1.2">**</tspan></text>
<path d="M105.3 693.5V690.7H125.6V733" fill="none" stroke="#555" stroke-width="0.7"/>
<text x="96.80" y="688.30" font-size="4.8" text-anchor="start" fill="#222" stroke="#222" stroke-width="0.18" font-weight="bold"><tspan font-style="italic">P</tspan> = 0.0099 &#160;<tspan font-size="6.5" dy="1.2">**</tspan></text>
<path d="M156.7 703.5V700H177.0V729" fill="none" stroke="#555" stroke-width="0.7"/>
<text x="151.00" y="697.60" font-size="4.8" text-anchor="start" fill="#222" stroke="#222" stroke-width="0.18" font-weight="bold"><tspan font-style="italic">P</tspan> = 0.0227<tspan font-size="6.5" dy="1.2">*</tspan></text>
<rect x="44.90" y="667.30" width="8.80" height="5.60" fill="none" stroke="#1c1c1c" stroke-width="1"/><text x="57.50" y="672.50" font-size="5.9" text-anchor="start" fill="#111" stroke="#111" stroke-width="0.18" font-weight="bold">No cavitation</text><rect x="44.90" y="678.20" width="8.80" height="5.40" fill="none" stroke="#d8423c" stroke-width="1"/><text x="57.50" y="683.20" font-size="5.9" text-anchor="start" fill="#111" stroke="#111" stroke-width="0.18" font-weight="bold">V<tspan font-size="3.7" dy="1.1">PP</tspan><tspan dy="-1.1"> = 300 V</tspan></text>
<text x="204.50" y="652.20" font-size="13" text-anchor="start" fill="#111" stroke="#111" stroke-width="0.28" font-weight="bold">j</text>
<text x="303.30" y="656.60" font-size="10.4" text-anchor="middle" fill="#111" stroke="#111" stroke-width="0.28" font-weight="bold">FRR = 4</text>
<rect x="225.80" y="665.30" width="152.70" height="121.90" fill="none" stroke="#2a2a2a" stroke-width="1.1"/>
<line x1="222.80" y1="787.20" x2="225.80" y2="787.20" stroke="#2a2a2a" stroke-width="1"/>
<text x="221.60" y="790.30" font-size="8.7" text-anchor="end" fill="#111" stroke="#111" stroke-width="0.28" font-weight="bold">0</text>
<line x1="222.80" y1="762.82" x2="225.80" y2="762.82" stroke="#2a2a2a" stroke-width="1"/>
<text x="221.60" y="765.92" font-size="8.7" text-anchor="end" fill="#111" stroke="#111" stroke-width="0.28" font-weight="bold">50</text>
<line x1="222.80" y1="738.44" x2="225.80" y2="738.44" stroke="#2a2a2a" stroke-width="1"/>
<text x="221.60" y="741.54" font-size="8.7" text-anchor="end" fill="#111" stroke="#111" stroke-width="0.28" font-weight="bold">100</text>
<line x1="222.80" y1="714.06" x2="225.80" y2="714.06" stroke="#2a2a2a" stroke-width="1"/>
<text x="221.60" y="717.16" font-size="8.7" text-anchor="end" fill="#111" stroke="#111" stroke-width="0.28" font-weight="bold">150</text>
<line x1="222.80" y1="689.68" x2="225.80" y2="689.68" stroke="#2a2a2a" stroke-width="1"/>
<text x="221.60" y="692.78" font-size="8.7" text-anchor="end" fill="#111" stroke="#111" stroke-width="0.28" font-weight="bold">200</text>
<line x1="222.80" y1="665.30" x2="225.80" y2="665.30" stroke="#2a2a2a" stroke-width="1"/>
<text x="221.60" y="668.40" font-size="8.7" text-anchor="end" fill="#111" stroke="#111" stroke-width="0.28" font-weight="bold">250</text>
<text x="204.30" y="726.70" font-size="8.8" text-anchor="middle" fill="#111" stroke="#111" stroke-width="0.28" font-weight="bold" transform="rotate(-90 204.30 726.70)">Size (nm)</text>
<rect x="232.70" y="728.49" width="9.80" height="58.71" fill="#fff" stroke="#1c1c1c" stroke-width="1.2"/>
<line x1="237.60" y1="724.59" x2="237.60" y2="732.39" stroke="#1c1c1c" stroke-width="1"/><line x1="234.30" y1="724.59" x2="240.90" y2="724.59" stroke="#1c1c1c" stroke-width="1"/><line x1="234.30" y1="732.39" x2="240.90" y2="732.39" stroke="#1c1c1c" stroke-width="1"/>
<circle cx="236.10" cy="730.05" r="0.90" fill="none" stroke="#1c1c1c" stroke-width="0.8"/><circle cx="239.10" cy="727.71" r="0.90" fill="none" stroke="#1c1c1c" stroke-width="0.8"/>
<rect x="247.90" y="754.68" width="9.60" height="32.52" fill="#fff" stroke="#d8423c" stroke-width="1.2"/>
<line x1="252.70" y1="752.24" x2="252.70" y2="757.12" stroke="#d8423c" stroke-width="1"/><line x1="249.40" y1="752.24" x2="256.00" y2="752.24" stroke="#d8423c" stroke-width="1"/><line x1="249.40" y1="757.12" x2="256.00" y2="757.12" stroke="#d8423c" stroke-width="1"/>
<circle cx="251.20" cy="755.65" r="0.90" fill="none" stroke="#d8423c" stroke-width="0.8"/><circle cx="254.20" cy="754.19" r="0.90" fill="none" stroke="#d8423c" stroke-width="0.8"/>
<rect x="270.80" y="719.18" width="9.90" height="68.02" fill="#fff" stroke="#1c1c1c" stroke-width="1.2"/>
<line x1="275.75" y1="716.74" x2="275.75" y2="721.62" stroke="#1c1c1c" stroke-width="1"/><line x1="272.45" y1="716.74" x2="279.05" y2="716.74" stroke="#1c1c1c" stroke-width="1"/><line x1="272.45" y1="721.62" x2="279.05" y2="721.62" stroke="#1c1c1c" stroke-width="1"/>
<circle cx="274.25" cy="720.15" r="0.90" fill="none" stroke="#1c1c1c" stroke-width="0.8"/><circle cx="277.25" cy="718.69" r="0.90" fill="none" stroke="#1c1c1c" stroke-width="0.8"/>
<rect x="286.00" y="748.78" width="9.90" height="38.42" fill="#fff" stroke="#d8423c" stroke-width="1.2"/>
<line x1="290.95" y1="747.80" x2="290.95" y2="749.75" stroke="#d8423c" stroke-width="1"/><line x1="287.65" y1="747.80" x2="294.25" y2="747.80" stroke="#d8423c" stroke-width="1"/><line x1="287.65" y1="749.75" x2="294.25" y2="749.75" stroke="#d8423c" stroke-width="1"/>
<circle cx="289.45" cy="749.17" r="0.90" fill="none" stroke="#d8423c" stroke-width="0.8"/><circle cx="292.45" cy="748.58" r="0.90" fill="none" stroke="#d8423c" stroke-width="0.8"/>
<rect x="308.70" y="704.02" width="9.80" height="83.18" fill="#fff" stroke="#1c1c1c" stroke-width="1.2"/>
<line x1="313.60" y1="703.28" x2="313.60" y2="704.75" stroke="#1c1c1c" stroke-width="1"/><line x1="310.30" y1="703.28" x2="316.90" y2="703.28" stroke="#1c1c1c" stroke-width="1"/><line x1="310.30" y1="704.75" x2="316.90" y2="704.75" stroke="#1c1c1c" stroke-width="1"/>
<circle cx="312.10" cy="704.31" r="0.90" fill="none" stroke="#1c1c1c" stroke-width="0.8"/><circle cx="315.10" cy="703.87" r="0.90" fill="none" stroke="#1c1c1c" stroke-width="0.8"/>
<rect x="323.90" y="759.21" width="9.60" height="27.99" fill="#fff" stroke="#d8423c" stroke-width="1.2"/>
<line x1="328.70" y1="758.72" x2="328.70" y2="759.70" stroke="#d8423c" stroke-width="1"/><line x1="325.40" y1="758.72" x2="332.00" y2="758.72" stroke="#d8423c" stroke-width="1"/><line x1="325.40" y1="759.70" x2="332.00" y2="759.70" stroke="#d8423c" stroke-width="1"/>
<circle cx="327.20" cy="759.41" r="0.90" fill="none" stroke="#d8423c" stroke-width="0.8"/><circle cx="330.20" cy="759.11" r="0.90" fill="none" stroke="#d8423c" stroke-width="0.8"/>
<rect x="346.50" y="688.51" width="10.20" height="98.69" fill="#fff" stroke="#1c1c1c" stroke-width="1.2"/>
<line x1="351.60" y1="683.63" x2="351.60" y2="693.39" stroke="#1c1c1c" stroke-width="1"/><line x1="348.30" y1="683.63" x2="354.90" y2="683.63" stroke="#1c1c1c" stroke-width="1"/><line x1="348.30" y1="693.39" x2="354.90" y2="693.39" stroke="#1c1c1c" stroke-width="1"/>
<circle cx="350.10" cy="690.46" r="0.90" fill="none" stroke="#1c1c1c" stroke-width="0.8"/><circle cx="353.10" cy="687.53" r="0.90" fill="none" stroke="#1c1c1c" stroke-width="0.8"/>
<rect x="361.50" y="722.69" width="10.40" height="64.51" fill="#fff" stroke="#d8423c" stroke-width="1.2"/>
<line x1="366.70" y1="713.43" x2="366.70" y2="731.95" stroke="#d8423c" stroke-width="1"/><line x1="363.40" y1="713.43" x2="370.00" y2="713.43" stroke="#d8423c" stroke-width="1"/><line x1="363.40" y1="731.95" x2="370.00" y2="731.95" stroke="#d8423c" stroke-width="1"/>
<circle cx="365.20" cy="726.40" r="0.90" fill="none" stroke="#d8423c" stroke-width="0.8"/><circle cx="368.20" cy="720.84" r="0.90" fill="none" stroke="#d8423c" stroke-width="0.8"/>
<text x="244.70" y="802.00" font-size="9" text-anchor="middle" fill="#111" stroke="#111" stroke-width="0.28" font-weight="bold">DMPC</text>
<text x="282.80" y="802.00" font-size="9" text-anchor="middle" fill="#111" stroke="#111" stroke-width="0.28" font-weight="bold">DSPC</text>
<text x="320.70" y="802.00" font-size="9" text-anchor="middle" fill="#111" stroke="#111" stroke-width="0.28" font-weight="bold">DPPC</text>
<text x="358.70" y="802.00" font-size="9" text-anchor="middle" fill="#111" stroke="#111" stroke-width="0.28" font-weight="bold">Lecithin</text>
<line x1="245.10" y1="787.20" x2="245.10" y2="789.70" stroke="#2a2a2a" stroke-width="1"/>
<line x1="283.30" y1="787.20" x2="283.30" y2="789.70" stroke="#2a2a2a" stroke-width="1"/>
<line x1="321.10" y1="787.20" x2="321.10" y2="789.70" stroke="#2a2a2a" stroke-width="1"/>
<line x1="359.20" y1="787.20" x2="359.20" y2="789.70" stroke="#2a2a2a" stroke-width="1"/>
<path d="M237.6 723V720H252.7V750" fill="none" stroke="#555" stroke-width="0.7"/>
<text x="230.00" y="713.80" font-size="4.7" text-anchor="start" fill="#222" stroke="#222" stroke-width="0.18" font-weight="bold"><tspan font-style="italic">P</tspan> = 0.0006</text>
<text x="245.15" y="720.60" font-size="6.5" text-anchor="middle" fill="#222" stroke="#222" stroke-width="0.18" font-weight="bold">***</text>
<path d="M275.8 715.5V712H291.0V745" fill="none" stroke="#555" stroke-width="0.7"/>
<text x="267.30" y="705.80" font-size="4.7" text-anchor="start" fill="#222" stroke="#222" stroke-width="0.18" font-weight="bold"><tspan font-style="italic">P</tspan> &lt; 0.0001</text>
<text x="283.40" y="712.60" font-size="6.5" text-anchor="middle" fill="#222" stroke="#222" stroke-width="0.18" font-weight="bold">***</text>
<path d="M313.6 702V699.2H328.7V756" fill="none" stroke="#555" stroke-width="0.7"/>
<text x="303.30" y="693.00" font-size="4.7" text-anchor="start" fill="#222" stroke="#222" stroke-width="0.18" font-weight="bold"><tspan font-style="italic">P</tspan> = 0.0001</text>
<text x="321.15" y="699.80" font-size="6.5" text-anchor="middle" fill="#222" stroke="#222" stroke-width="0.18" font-weight="bold">***</text>
<path d="M351.6 682.5V680H366.7V711" fill="none" stroke="#555" stroke-width="0.7"/>
<text x="345.50" y="673.80" font-size="4.7" text-anchor="start" fill="#222" stroke="#222" stroke-width="0.18" font-weight="bold"><tspan font-style="italic">P</tspan> = 0.0046</text>
<text x="359.15" y="680.60" font-size="6.5" text-anchor="middle" fill="#222" stroke="#222" stroke-width="0.18" font-weight="bold">**</text>
<rect x="235.90" y="668.50" width="8.80" height="5.60" fill="none" stroke="#1c1c1c" stroke-width="1"/><text x="248.70" y="673.70" font-size="5.9" text-anchor="start" fill="#111" stroke="#111" stroke-width="0.18" font-weight="bold">No cavitation</text><rect x="235.90" y="680.40" width="8.80" height="5.40" fill="none" stroke="#d8423c" stroke-width="1"/><text x="248.70" y="685.40" font-size="5.9" text-anchor="start" fill="#111" stroke="#111" stroke-width="0.18" font-weight="bold">V<tspan font-size="3.7" dy="1.1">PP</tspan><tspan dy="-1.1"> = 300 V</tspan></text>
<text x="385.00" y="652.80" font-size="13" text-anchor="start" fill="#111" stroke="#111" stroke-width="0.28" font-weight="bold">k</text>
<text x="487.00" y="656.20" font-size="10.4" text-anchor="middle" fill="#111" stroke="#111" stroke-width="0.28" font-weight="bold">FRR = 4 &#160;V<tspan font-size="6.1" dy="1.8">PP</tspan><tspan dy="-1.8"> = 300 V</tspan></text>
<rect x="412.00" y="663.40" width="157.40" height="125.40" fill="none" stroke="#2a2a2a" stroke-width="1.1"/>
<line x1="409.00" y1="788.80" x2="412.00" y2="788.80" stroke="#2a2a2a" stroke-width="1"/>
<text x="408.30" y="791.90" font-size="8.6" text-anchor="end" fill="#111" stroke="#111" stroke-width="0.28" font-weight="bold">0</text>
<line x1="409.00" y1="757.45" x2="412.00" y2="757.45" stroke="#2a2a2a" stroke-width="1"/>
<text x="408.30" y="760.55" font-size="8.6" text-anchor="end" fill="#111" stroke="#111" stroke-width="0.28" font-weight="bold">50</text>
<line x1="409.00" y1="726.10" x2="412.00" y2="726.10" stroke="#2a2a2a" stroke-width="1"/>
<text x="408.30" y="729.20" font-size="8.6" text-anchor="end" fill="#111" stroke="#111" stroke-width="0.28" font-weight="bold">100</text>
<line x1="409.00" y1="694.75" x2="412.00" y2="694.75" stroke="#2a2a2a" stroke-width="1"/>
<text x="408.30" y="697.85" font-size="8.6" text-anchor="end" fill="#111" stroke="#111" stroke-width="0.28" font-weight="bold">150</text>
<line x1="409.00" y1="663.40" x2="412.00" y2="663.40" stroke="#2a2a2a" stroke-width="1"/>
<text x="408.30" y="666.50" font-size="8.6" text-anchor="end" fill="#111" stroke="#111" stroke-width="0.28" font-weight="bold">200</text>
<text x="389.30" y="725.30" font-size="8.8" text-anchor="middle" fill="#111" stroke="#111" stroke-width="0.28" font-weight="bold" transform="rotate(-90 389.30 725.30)">Size (nm)</text>
<rect x="419.70" y="702.90" width="18.00" height="85.90" fill="#fff" stroke="#1c1c1c" stroke-width="1.2"/>
<line x1="428.70" y1="700.39" x2="428.70" y2="703.65" stroke="#1c1c1c" stroke-width="1"/><line x1="425.50" y1="700.39" x2="431.90" y2="700.39" stroke="#1c1c1c" stroke-width="1"/><line x1="425.50" y1="703.65" x2="431.90" y2="703.65" stroke="#1c1c1c" stroke-width="1"/>
<circle cx="426.70" cy="704.15" r="1.40" fill="none" stroke="#1c1c1c" stroke-width="0.8"/><circle cx="430.70" cy="702.15" r="1.40" fill="none" stroke="#1c1c1c" stroke-width="0.8"/><circle cx="428.70" cy="700.39" r="1.40" fill="none" stroke="#1c1c1c" stroke-width="0.8"/>
<line x1="428.70" y1="788.80" x2="428.70" y2="791.80" stroke="#2a2a2a" stroke-width="1"/>
<text x="437.90" y="796.00" font-size="9.1" text-anchor="end" fill="#111" stroke="#111" stroke-width="0.28" font-weight="bold" transform="rotate(-45 437.90 796.00)">No transducer</text>
<rect x="451.00" y="747.54" width="18.00" height="41.26" fill="#fff" stroke="#d8423c" stroke-width="1.2"/>
<line x1="460.00" y1="746.60" x2="460.00" y2="747.83" stroke="#d8423c" stroke-width="1"/><line x1="456.80" y1="746.60" x2="463.20" y2="746.60" stroke="#d8423c" stroke-width="1"/><line x1="456.80" y1="747.83" x2="463.20" y2="747.83" stroke="#d8423c" stroke-width="1"/>
<circle cx="458.00" cy="748.01" r="1.40" fill="none" stroke="#d8423c" stroke-width="0.8"/><circle cx="462.00" cy="747.26" r="1.40" fill="none" stroke="#d8423c" stroke-width="0.8"/><circle cx="460.00" cy="746.60" r="1.40" fill="none" stroke="#d8423c" stroke-width="0.8"/>
<line x1="460.00" y1="788.80" x2="460.00" y2="791.80" stroke="#2a2a2a" stroke-width="1"/>
<text x="469.20" y="796.00" font-size="9.1" text-anchor="end" fill="#111" stroke="#111" stroke-width="0.28" font-weight="bold" transform="rotate(-45 469.20 796.00)">51.1 kHz</text>
<rect x="482.20" y="704.91" width="18.00" height="83.89" fill="#fff" stroke="#3b7cba" stroke-width="1.2"/>
<line x1="491.20" y1="702.40" x2="491.20" y2="705.66" stroke="#3b7cba" stroke-width="1"/><line x1="488.00" y1="702.40" x2="494.40" y2="702.40" stroke="#3b7cba" stroke-width="1"/><line x1="488.00" y1="705.66" x2="494.40" y2="705.66" stroke="#3b7cba" stroke-width="1"/>
<circle cx="489.20" cy="706.16" r="1.40" fill="none" stroke="#3b7cba" stroke-width="0.8"/><circle cx="493.20" cy="704.15" r="1.40" fill="none" stroke="#3b7cba" stroke-width="0.8"/><circle cx="491.20" cy="702.40" r="1.40" fill="none" stroke="#3b7cba" stroke-width="0.8"/>
<line x1="491.20" y1="788.80" x2="491.20" y2="791.80" stroke="#2a2a2a" stroke-width="1"/>
<text x="500.40" y="796.00" font-size="9.1" text-anchor="end" fill="#111" stroke="#111" stroke-width="0.28" font-weight="bold" transform="rotate(-45 500.40 796.00)">251.8 kHz</text>
<rect x="513.70" y="696.13" width="18.00" height="92.67" fill="#fff" stroke="#1c1c1c" stroke-width="1.2"/>
<line x1="522.70" y1="695.19" x2="522.70" y2="696.41" stroke="#1c1c1c" stroke-width="1"/><line x1="519.50" y1="695.19" x2="525.90" y2="695.19" stroke="#1c1c1c" stroke-width="1"/><line x1="519.50" y1="696.41" x2="525.90" y2="696.41" stroke="#1c1c1c" stroke-width="1"/>
<circle cx="520.70" cy="696.60" r="1.40" fill="none" stroke="#1c1c1c" stroke-width="0.8"/><circle cx="524.70" cy="695.85" r="1.40" fill="none" stroke="#1c1c1c" stroke-width="0.8"/><circle cx="522.70" cy="695.19" r="1.40" fill="none" stroke="#1c1c1c" stroke-width="0.8"/>
<line x1="522.70" y1="788.80" x2="522.70" y2="791.80" stroke="#2a2a2a" stroke-width="1"/>
<text x="531.90" y="796.00" font-size="9.1" text-anchor="end" fill="#111" stroke="#111" stroke-width="0.28" font-weight="bold" transform="rotate(-45 531.90 796.00)">500 kHz</text>
<rect x="545.00" y="698.01" width="18.00" height="90.79" fill="#fff" stroke="#d779e6" stroke-width="1.2"/>
<line x1="554.00" y1="696.76" x2="554.00" y2="698.39" stroke="#d779e6" stroke-width="1"/><line x1="550.80" y1="696.76" x2="557.20" y2="696.76" stroke="#d779e6" stroke-width="1"/><line x1="550.80" y1="698.39" x2="557.20" y2="698.39" stroke="#d779e6" stroke-width="1"/>
<circle cx="552.00" cy="698.64" r="1.40" fill="none" stroke="#d779e6" stroke-width="0.8"/><circle cx="556.00" cy="697.63" r="1.40" fill="none" stroke="#d779e6" stroke-width="0.8"/><circle cx="554.00" cy="696.76" r="1.40" fill="none" stroke="#d779e6" stroke-width="0.8"/>
<line x1="554.00" y1="788.80" x2="554.00" y2="791.80" stroke="#2a2a2a" stroke-width="1"/>
<text x="563.20" y="796.00" font-size="9.1" text-anchor="end" fill="#111" stroke="#111" stroke-width="0.28" font-weight="bold" transform="rotate(-45 563.20 796.00)">2 MHz</text>
<path d="M427.5 679.5V673.7H522.5V690.6" fill="none" stroke="#555" stroke-width="0.7"/>
<line x1="485.70" y1="690.70" x2="559.50" y2="690.70" stroke="#555" stroke-width="0.7"/>
<text x="471.50" y="671.50" font-size="4.8" text-anchor="middle" fill="#222" stroke="#222" stroke-width="0.18" font-weight="bold">NS</text>
<path d="M428.5 694V692H460.3V745.3" fill="none" stroke="#555" stroke-width="0.7"/>
<text x="422.50" y="689.90" font-size="4.7" text-anchor="start" fill="#222" stroke="#222" stroke-width="0.18" font-weight="bold"><tspan font-style="italic">P</tspan> &lt; 0.0001</text>
<text x="451.50" y="691.20" font-size="6.5" text-anchor="start" fill="#222" stroke="#222" stroke-width="0.18" font-weight="bold">***</text>
<defs><filter id="lnoise" x="0" y="0" width="100%" height="100%"><feTurbulence type="fractalNoise" baseFrequency="0.8" numOctaves="2" seed="7"/><feColorMatrix type="matrix" values="0 0 0 0 0.5  0 0 0 0 0.5  0 0 0 0 0.5  0 0 0 0.8 -0.25"/></filter>
<clipPath id="lclip"><rect x="587.9" y="659.8" width="147.7" height="131.7"/></clipPath></defs>
<text x="572.00" y="652.20" font-size="13" text-anchor="start" fill="#111" stroke="#111" stroke-width="0.28" font-weight="bold">l</text>
<text x="665.00" y="655.40" font-size="10.4" text-anchor="middle" fill="#111" stroke="#111" stroke-width="0.28" font-weight="bold">FRR = 4 &#160;V<tspan font-size="6.4" dy="1.9">PP</tspan><tspan dy="-1.9"> = 300 V</tspan></text>
<g clip-path="url(#lclip)"><rect x="587.90" y="659.80" width="147.70" height="131.70" fill="#828282" stroke="none" stroke-width="1"/><path d="M587.5 752.5 C 606 760, 622 769, 640 772.5 S 664 777.5, 672 777 S 716 769, 736 763.2 L735.5999999999999 791.5 L587.9 791.5Z" fill="#6e6e6e" stroke="none" stroke-width="1"/><path d="M587.5 752.5 C 606 760, 622 769, 640 772.5 S 664 777.5, 672 777 S 716 769, 736 763.2" fill="none" stroke="#555" stroke-width="1.0" transform="translate(0 1)"/><path d="M587.5 752.5 C 606 760, 622 769, 640 772.5 S 664 777.5, 672 777 S 716 769, 736 763.2" fill="none" stroke="#bdbdbd" stroke-width="1.0" stroke-linejoin="round"/><circle cx="601.80" cy="726.14" r="5.40" fill="#808080" stroke="#5c5c5c" stroke-width="0.9"/><circle cx="656.28" cy="718.54" r="6.20" fill="#808080" stroke="#5c5c5c" stroke-width="0.9"/><circle cx="682.12" cy="721.58" r="5.40" fill="#808080" stroke="#5c5c5c" stroke-width="0.9"/><circle cx="650.70" cy="755.78" r="6.00" fill="#808080" stroke="#5c5c5c" stroke-width="0.9"/><circle cx="713.79" cy="722.34" r="2.60" fill="#808080" stroke="#5c5c5c" stroke-width="0.9"/><circle cx="656.28" cy="718.54" r="3.40" fill="none" stroke="#6e6e6e" stroke-width="0.6"/><rect x="587.90" y="659.80" width="147.70" height="131.70" fill="#888" stroke="none" stroke-width="1" filter="url(#lnoise)" opacity="0.35"/></g>
<rect x="587.90" y="659.80" width="147.70" height="131.70" fill="none" stroke="#1a1a1a" stroke-width="1.2"/>
<text x="716.30" y="778.90" font-size="8.2" text-anchor="middle" fill="#111" stroke="#111" stroke-width="0.28" font-weight="bold">50 nm</text>
<rect x="710.70" y="781.60" width="11.40" height="1.70" fill="#111" stroke="none" stroke-width="1"/>
</svg>
</body></html>
